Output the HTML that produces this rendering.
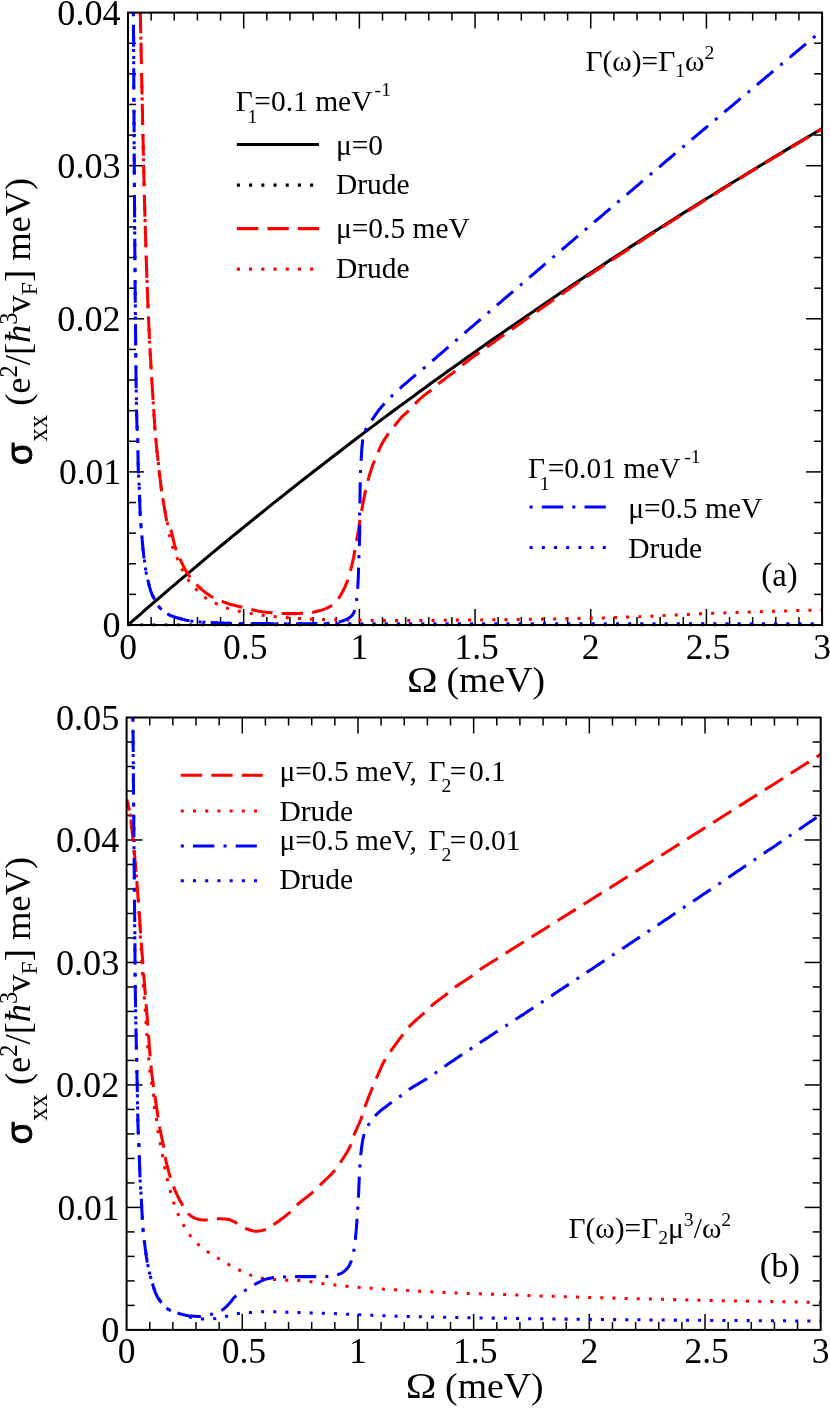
<!DOCTYPE html>
<html><head><meta charset="utf-8"><title>fig</title>
<style>
html,body{margin:0;padding:0;background:#fff;}
body{width:830px;height:1408px;overflow:hidden;font-family:"Liberation Serif",serif;}
svg{display:block;will-change:transform;}
svg text{font-family:"Liberation Serif",serif;fill:#000;}
</style></head><body>
<svg width="830" height="1408" viewBox="0 0 830 1408">
<defs>
<clipPath id="ca"><rect x="128.00" y="12.60" width="694.10" height="613.90"/></clipPath>
<clipPath id="cb"><rect x="126.60" y="717.50" width="694.10" height="613.90"/></clipPath>
</defs>
<rect x="0" y="0" width="830" height="1408" fill="#fff"/>
<line x1="151.14" y1="625.00" x2="151.14" y2="617.00" stroke="#000" stroke-width="1.50"/>
<line x1="151.14" y1="12.60" x2="151.14" y2="20.60" stroke="#000" stroke-width="1.50"/>
<line x1="174.27" y1="625.00" x2="174.27" y2="617.00" stroke="#000" stroke-width="1.50"/>
<line x1="174.27" y1="12.60" x2="174.27" y2="20.60" stroke="#000" stroke-width="1.50"/>
<line x1="197.41" y1="625.00" x2="197.41" y2="617.00" stroke="#000" stroke-width="1.50"/>
<line x1="197.41" y1="12.60" x2="197.41" y2="20.60" stroke="#000" stroke-width="1.50"/>
<line x1="220.55" y1="625.00" x2="220.55" y2="617.00" stroke="#000" stroke-width="1.50"/>
<line x1="220.55" y1="12.60" x2="220.55" y2="20.60" stroke="#000" stroke-width="1.50"/>
<line x1="243.68" y1="625.00" x2="243.68" y2="609.00" stroke="#000" stroke-width="1.50"/>
<line x1="243.68" y1="12.60" x2="243.68" y2="28.60" stroke="#000" stroke-width="1.50"/>
<line x1="266.82" y1="625.00" x2="266.82" y2="617.00" stroke="#000" stroke-width="1.50"/>
<line x1="266.82" y1="12.60" x2="266.82" y2="20.60" stroke="#000" stroke-width="1.50"/>
<line x1="289.96" y1="625.00" x2="289.96" y2="617.00" stroke="#000" stroke-width="1.50"/>
<line x1="289.96" y1="12.60" x2="289.96" y2="20.60" stroke="#000" stroke-width="1.50"/>
<line x1="313.09" y1="625.00" x2="313.09" y2="617.00" stroke="#000" stroke-width="1.50"/>
<line x1="313.09" y1="12.60" x2="313.09" y2="20.60" stroke="#000" stroke-width="1.50"/>
<line x1="336.23" y1="625.00" x2="336.23" y2="617.00" stroke="#000" stroke-width="1.50"/>
<line x1="336.23" y1="12.60" x2="336.23" y2="20.60" stroke="#000" stroke-width="1.50"/>
<line x1="359.37" y1="625.00" x2="359.37" y2="609.00" stroke="#000" stroke-width="1.50"/>
<line x1="359.37" y1="12.60" x2="359.37" y2="28.60" stroke="#000" stroke-width="1.50"/>
<line x1="382.50" y1="625.00" x2="382.50" y2="617.00" stroke="#000" stroke-width="1.50"/>
<line x1="382.50" y1="12.60" x2="382.50" y2="20.60" stroke="#000" stroke-width="1.50"/>
<line x1="405.64" y1="625.00" x2="405.64" y2="617.00" stroke="#000" stroke-width="1.50"/>
<line x1="405.64" y1="12.60" x2="405.64" y2="20.60" stroke="#000" stroke-width="1.50"/>
<line x1="428.78" y1="625.00" x2="428.78" y2="617.00" stroke="#000" stroke-width="1.50"/>
<line x1="428.78" y1="12.60" x2="428.78" y2="20.60" stroke="#000" stroke-width="1.50"/>
<line x1="451.91" y1="625.00" x2="451.91" y2="617.00" stroke="#000" stroke-width="1.50"/>
<line x1="451.91" y1="12.60" x2="451.91" y2="20.60" stroke="#000" stroke-width="1.50"/>
<line x1="475.05" y1="625.00" x2="475.05" y2="609.00" stroke="#000" stroke-width="1.50"/>
<line x1="475.05" y1="12.60" x2="475.05" y2="28.60" stroke="#000" stroke-width="1.50"/>
<line x1="498.19" y1="625.00" x2="498.19" y2="617.00" stroke="#000" stroke-width="1.50"/>
<line x1="498.19" y1="12.60" x2="498.19" y2="20.60" stroke="#000" stroke-width="1.50"/>
<line x1="521.32" y1="625.00" x2="521.32" y2="617.00" stroke="#000" stroke-width="1.50"/>
<line x1="521.32" y1="12.60" x2="521.32" y2="20.60" stroke="#000" stroke-width="1.50"/>
<line x1="544.46" y1="625.00" x2="544.46" y2="617.00" stroke="#000" stroke-width="1.50"/>
<line x1="544.46" y1="12.60" x2="544.46" y2="20.60" stroke="#000" stroke-width="1.50"/>
<line x1="567.60" y1="625.00" x2="567.60" y2="617.00" stroke="#000" stroke-width="1.50"/>
<line x1="567.60" y1="12.60" x2="567.60" y2="20.60" stroke="#000" stroke-width="1.50"/>
<line x1="590.73" y1="625.00" x2="590.73" y2="609.00" stroke="#000" stroke-width="1.50"/>
<line x1="590.73" y1="12.60" x2="590.73" y2="28.60" stroke="#000" stroke-width="1.50"/>
<line x1="613.87" y1="625.00" x2="613.87" y2="617.00" stroke="#000" stroke-width="1.50"/>
<line x1="613.87" y1="12.60" x2="613.87" y2="20.60" stroke="#000" stroke-width="1.50"/>
<line x1="637.01" y1="625.00" x2="637.01" y2="617.00" stroke="#000" stroke-width="1.50"/>
<line x1="637.01" y1="12.60" x2="637.01" y2="20.60" stroke="#000" stroke-width="1.50"/>
<line x1="660.14" y1="625.00" x2="660.14" y2="617.00" stroke="#000" stroke-width="1.50"/>
<line x1="660.14" y1="12.60" x2="660.14" y2="20.60" stroke="#000" stroke-width="1.50"/>
<line x1="683.28" y1="625.00" x2="683.28" y2="617.00" stroke="#000" stroke-width="1.50"/>
<line x1="683.28" y1="12.60" x2="683.28" y2="20.60" stroke="#000" stroke-width="1.50"/>
<line x1="706.42" y1="625.00" x2="706.42" y2="609.00" stroke="#000" stroke-width="1.50"/>
<line x1="706.42" y1="12.60" x2="706.42" y2="28.60" stroke="#000" stroke-width="1.50"/>
<line x1="729.55" y1="625.00" x2="729.55" y2="617.00" stroke="#000" stroke-width="1.50"/>
<line x1="729.55" y1="12.60" x2="729.55" y2="20.60" stroke="#000" stroke-width="1.50"/>
<line x1="752.69" y1="625.00" x2="752.69" y2="617.00" stroke="#000" stroke-width="1.50"/>
<line x1="752.69" y1="12.60" x2="752.69" y2="20.60" stroke="#000" stroke-width="1.50"/>
<line x1="775.83" y1="625.00" x2="775.83" y2="617.00" stroke="#000" stroke-width="1.50"/>
<line x1="775.83" y1="12.60" x2="775.83" y2="20.60" stroke="#000" stroke-width="1.50"/>
<line x1="798.96" y1="625.00" x2="798.96" y2="617.00" stroke="#000" stroke-width="1.50"/>
<line x1="798.96" y1="12.60" x2="798.96" y2="20.60" stroke="#000" stroke-width="1.50"/>
<line x1="128.00" y1="594.38" x2="136.00" y2="594.38" stroke="#000" stroke-width="1.50"/>
<line x1="822.10" y1="594.38" x2="814.10" y2="594.38" stroke="#000" stroke-width="1.50"/>
<line x1="128.00" y1="563.76" x2="136.00" y2="563.76" stroke="#000" stroke-width="1.50"/>
<line x1="822.10" y1="563.76" x2="814.10" y2="563.76" stroke="#000" stroke-width="1.50"/>
<line x1="128.00" y1="533.14" x2="136.00" y2="533.14" stroke="#000" stroke-width="1.50"/>
<line x1="822.10" y1="533.14" x2="814.10" y2="533.14" stroke="#000" stroke-width="1.50"/>
<line x1="128.00" y1="502.52" x2="136.00" y2="502.52" stroke="#000" stroke-width="1.50"/>
<line x1="822.10" y1="502.52" x2="814.10" y2="502.52" stroke="#000" stroke-width="1.50"/>
<line x1="128.00" y1="471.90" x2="144.00" y2="471.90" stroke="#000" stroke-width="1.50"/>
<line x1="822.10" y1="471.90" x2="806.10" y2="471.90" stroke="#000" stroke-width="1.50"/>
<line x1="128.00" y1="441.28" x2="136.00" y2="441.28" stroke="#000" stroke-width="1.50"/>
<line x1="822.10" y1="441.28" x2="814.10" y2="441.28" stroke="#000" stroke-width="1.50"/>
<line x1="128.00" y1="410.66" x2="136.00" y2="410.66" stroke="#000" stroke-width="1.50"/>
<line x1="822.10" y1="410.66" x2="814.10" y2="410.66" stroke="#000" stroke-width="1.50"/>
<line x1="128.00" y1="380.04" x2="136.00" y2="380.04" stroke="#000" stroke-width="1.50"/>
<line x1="822.10" y1="380.04" x2="814.10" y2="380.04" stroke="#000" stroke-width="1.50"/>
<line x1="128.00" y1="349.42" x2="136.00" y2="349.42" stroke="#000" stroke-width="1.50"/>
<line x1="822.10" y1="349.42" x2="814.10" y2="349.42" stroke="#000" stroke-width="1.50"/>
<line x1="128.00" y1="318.80" x2="144.00" y2="318.80" stroke="#000" stroke-width="1.50"/>
<line x1="822.10" y1="318.80" x2="806.10" y2="318.80" stroke="#000" stroke-width="1.50"/>
<line x1="128.00" y1="288.18" x2="136.00" y2="288.18" stroke="#000" stroke-width="1.50"/>
<line x1="822.10" y1="288.18" x2="814.10" y2="288.18" stroke="#000" stroke-width="1.50"/>
<line x1="128.00" y1="257.56" x2="136.00" y2="257.56" stroke="#000" stroke-width="1.50"/>
<line x1="822.10" y1="257.56" x2="814.10" y2="257.56" stroke="#000" stroke-width="1.50"/>
<line x1="128.00" y1="226.94" x2="136.00" y2="226.94" stroke="#000" stroke-width="1.50"/>
<line x1="822.10" y1="226.94" x2="814.10" y2="226.94" stroke="#000" stroke-width="1.50"/>
<line x1="128.00" y1="196.32" x2="136.00" y2="196.32" stroke="#000" stroke-width="1.50"/>
<line x1="822.10" y1="196.32" x2="814.10" y2="196.32" stroke="#000" stroke-width="1.50"/>
<line x1="128.00" y1="165.70" x2="144.00" y2="165.70" stroke="#000" stroke-width="1.50"/>
<line x1="822.10" y1="165.70" x2="806.10" y2="165.70" stroke="#000" stroke-width="1.50"/>
<line x1="128.00" y1="135.08" x2="136.00" y2="135.08" stroke="#000" stroke-width="1.50"/>
<line x1="822.10" y1="135.08" x2="814.10" y2="135.08" stroke="#000" stroke-width="1.50"/>
<line x1="128.00" y1="104.46" x2="136.00" y2="104.46" stroke="#000" stroke-width="1.50"/>
<line x1="822.10" y1="104.46" x2="814.10" y2="104.46" stroke="#000" stroke-width="1.50"/>
<line x1="128.00" y1="73.84" x2="136.00" y2="73.84" stroke="#000" stroke-width="1.50"/>
<line x1="822.10" y1="73.84" x2="814.10" y2="73.84" stroke="#000" stroke-width="1.50"/>
<line x1="128.00" y1="43.22" x2="136.00" y2="43.22" stroke="#000" stroke-width="1.50"/>
<line x1="822.10" y1="43.22" x2="814.10" y2="43.22" stroke="#000" stroke-width="1.50"/>
<path d="M128.0,625.0 L131.5,625.0 L135.0,625.0 L138.5,625.0 L142.0,625.0 L145.4,625.0 L148.9,625.0 L152.4,625.0 L155.9,625.0 L159.4,625.0 L162.9,625.0 L166.4,625.0 L169.9,625.0 L173.3,625.0 L176.8,625.0 L180.3,625.0 L183.8,625.0 L187.3,625.0 L190.8,625.0 L194.3,625.0 L197.8,625.0 L201.2,625.0 L204.7,625.0 L208.2,625.0 L211.7,625.0 L215.2,625.0 L218.7,625.0 L222.2,625.0 L225.7,625.0 L229.2,625.0 L232.6,625.0 L236.1,625.0 L239.6,625.0 L243.1,625.0 L246.6,625.0 L250.1,625.0 L253.6,625.0 L257.1,625.0 L260.5,625.0 L264.0,625.0 L267.5,625.0 L271.0,625.0 L274.5,625.0 L278.0,625.0 L281.5,625.0 L285.0,625.0 L288.4,625.0 L291.9,625.0 L295.4,625.0 L298.9,625.0 L302.4,625.0 L305.9,625.0 L309.4,625.0 L312.9,625.0 L316.3,625.0 L319.8,625.0 L323.3,625.0 L326.8,625.0 L330.3,625.0 L333.8,625.0 L337.3,625.0 L340.8,625.0 L344.3,625.0 L347.7,625.0 L351.2,625.0 L354.7,625.0 L358.2,625.0 L361.7,625.0 L365.2,625.0 L368.7,625.0 L372.2,625.0 L375.6,625.0 L379.1,625.0 L382.6,625.0 L386.1,625.0 L389.6,625.0 L393.1,625.0 L396.6,625.0 L400.1,625.0 L403.5,625.0 L407.0,625.0 L410.5,625.0 L414.0,625.0 L417.5,625.0 L421.0,625.0 L424.5,625.0 L428.0,625.0 L431.5,625.0 L434.9,625.0 L438.4,625.0 L441.9,625.0 L445.4,625.0 L448.9,625.0 L452.4,625.0 L455.9,625.0 L459.4,625.0 L462.8,625.0 L466.3,625.0 L469.8,625.0 L473.3,625.0 L476.8,625.0 L480.3,625.0 L483.8,625.0 L487.3,625.0 L490.7,625.0 L494.2,625.0 L497.7,625.0 L501.2,625.0 L504.7,625.0 L508.2,625.0 L511.7,625.0 L515.2,625.0 L518.6,625.0 L522.1,625.0 L525.6,625.0 L529.1,625.0 L532.6,625.0 L536.1,625.0 L539.6,625.0 L543.1,625.0 L546.6,625.0 L550.0,625.0 L553.5,625.0 L557.0,625.0 L560.5,625.0 L564.0,625.0 L567.5,625.0 L571.0,625.0 L574.5,625.0 L577.9,625.0 L581.4,625.0 L584.9,625.0 L588.4,625.0 L591.9,625.0 L595.4,625.0 L598.9,625.0 L602.4,625.0 L605.8,625.0 L609.3,625.0 L612.8,625.0 L616.3,625.0 L619.8,625.0 L623.3,625.0 L626.8,625.0 L630.3,625.0 L633.8,625.0 L637.2,625.0 L640.7,625.0 L644.2,625.0 L647.7,625.0 L651.2,625.0 L654.7,625.0 L658.2,625.0 L661.7,625.0 L665.1,625.0 L668.6,625.0 L672.1,625.0 L675.6,625.0 L679.1,625.0 L682.6,625.0 L686.1,625.0 L689.6,625.0 L693.0,625.0 L696.5,625.0 L700.0,625.0 L703.5,625.0 L707.0,625.0 L710.5,625.0 L714.0,625.0 L717.5,625.0 L720.9,625.0 L724.4,625.0 L727.9,625.0 L731.4,625.0 L734.9,625.0 L738.4,625.0 L741.9,625.0 L745.4,625.0 L748.9,625.0 L752.3,625.0 L755.8,625.0 L759.3,625.0 L762.8,625.0 L766.3,625.0 L769.8,625.0 L773.3,625.0 L776.8,625.0 L780.2,625.0 L783.7,625.0 L787.2,625.0 L790.7,625.0 L794.2,625.0 L797.7,625.0 L801.2,625.0 L804.7,625.0 L808.1,625.0 L811.6,625.0 L815.1,625.0 L818.6,625.0 L822.1,625.0" fill="none" stroke="#000000" stroke-width="3.05" stroke-dasharray="3.050 9.150" stroke-dashoffset="0.00" clip-path="url(#ca)"/>
<path d="M132.9,-60.0 L132.9,-56.6 L132.9,-53.3 L133.0,-49.9 L133.0,-46.6 L133.0,-43.2 L133.0,-39.9 L133.1,-36.5 L133.1,-33.2 L133.1,-29.8 L133.1,-26.5 L133.2,-23.1 L133.2,-19.8 L133.2,-16.4 L133.2,-13.1 L133.3,-9.7 L133.3,-6.4 L133.3,-3.0 L133.3,0.3 L133.3,3.7 L133.4,7.0 L133.4,10.4 L133.4,13.7 L133.4,17.1 L133.4,20.4 L133.5,23.8 L133.5,27.1 L133.5,30.5 L133.5,33.8 L133.6,37.2 L133.6,40.5 L133.6,43.9 L133.6,47.2 L133.6,50.6 L133.7,53.9 L133.7,57.3 L133.7,60.6 L133.7,64.0 L133.7,67.3 L133.7,70.7 L133.8,74.0 L133.8,77.4 L133.8,80.7 L133.8,84.1 L133.8,87.4 L133.9,90.8 L133.9,94.1 L133.9,97.5 L133.9,100.8 L133.9,104.2 L133.9,107.5 L134.0,110.9 L134.0,114.2 L134.0,117.6 L134.0,120.9 L134.0,124.3 L134.1,127.6 L134.1,131.0 L134.1,134.3 L134.1,137.7 L134.1,141.0 L134.2,144.4 L134.2,147.7 L134.2,151.1 L134.2,154.4 L134.2,157.8 L134.3,161.1 L134.3,164.5 L134.3,167.8 L134.3,171.2 L134.3,174.5 L134.4,177.9 L134.4,181.2 L134.4,184.6 L134.4,187.9 L134.4,191.3 L134.5,194.6 L134.5,198.0 L134.5,201.3 L134.5,204.7 L134.6,208.0 L134.6,211.4 L134.6,214.7 L134.6,218.1 L134.6,221.4 L134.7,224.8 L134.7,228.1 L134.7,231.5 L134.7,234.8 L134.8,238.2 L134.8,241.5 L134.8,244.9 L134.8,248.2 L134.8,251.6 L134.9,254.9 L134.9,258.3 L134.9,261.6 L134.9,265.0 L135.0,268.3 L135.0,271.7 L135.0,275.0 L135.1,278.4 L135.1,281.7 L135.1,285.1 L135.1,288.4 L135.2,291.8 L135.2,295.1 L135.2,298.5 L135.2,301.8 L135.3,305.2 L135.3,308.5 L135.3,311.9 L135.4,315.2 L135.4,318.6 L135.4,321.9 L135.5,325.3 L135.5,328.6 L135.5,332.0 L135.6,335.3 L135.6,338.7 L135.6,342.0 L135.7,345.4 L135.7,348.7 L135.7,352.1 L135.8,355.4 L135.8,358.8 L135.8,362.1 L135.9,365.5 L135.9,368.8 L136.0,372.2 L136.0,375.5 L136.0,378.9 L136.1,382.2 L136.1,385.6 L136.2,388.9 L136.2,392.3 L136.3,395.6 L136.4,399.0 L136.4,402.3 L136.5,405.7 L136.6,409.0 L136.6,412.4 L136.7,415.7 L136.8,419.1 L136.9,422.4 L137.0,425.8 L137.2,429.1 L137.4,432.4 L137.5,435.8 L137.7,439.1 L137.8,442.5 L137.8,445.8 L137.9,449.2 L138.0,452.5 L138.0,455.9 L138.1,459.2 L138.1,462.6 L138.2,465.9 L138.3,469.3 L138.4,472.6 L138.6,476.0 L138.8,479.3 L139.0,482.7 L139.2,486.0 L139.3,489.4 L139.5,492.7 L139.6,496.1 L139.7,499.4 L139.8,502.8 L139.9,506.1 L140.0,509.4 L140.1,512.8 L140.3,516.1 L140.5,519.5 L140.7,522.8 L141.0,526.2 L141.3,529.5 L141.6,532.8 L141.9,536.2 L142.2,539.5 L142.5,542.9 L142.7,546.2 L143.0,549.5 L143.4,552.9 L143.8,556.2 L144.3,559.5 L144.7,562.8 L145.2,566.1 L145.7,569.5 L146.2,572.8 L146.9,576.0 L147.7,579.3 L148.5,582.6 L149.3,585.8 L150.1,589.1 L151.1,592.3 L152.4,595.3 L154.0,598.3 L155.6,601.2 L157.3,604.2 L159.2,607.0 L161.4,609.4 L164.0,611.6 L166.8,613.5 L169.7,615.1 L172.8,616.4 L176.0,617.5 L179.2,618.4 L182.5,619.3 L185.7,620.0 L189.0,620.7 L192.3,621.2 L195.7,621.6 L199.0,621.9 L202.3,622.2 L205.7,622.3 L209.0,622.5 L212.4,622.6 L215.7,622.8 L219.1,622.9 L222.4,623.1 L225.8,623.2 L229.1,623.3 L232.5,623.4 L235.8,623.4 L239.2,623.5 L242.5,623.5 L245.9,623.5 L249.2,623.5 L252.6,623.6 L255.9,623.6 L259.3,623.6 L262.6,623.6 L266.0,623.6 L269.3,623.6 L272.7,623.7 L276.0,623.7 L279.4,623.7 L282.7,623.7 L286.1,623.7 L289.4,623.7 L292.8,623.7 L296.1,623.7 L299.5,623.7 L302.8,623.7 L306.2,623.7 L309.5,623.7 L312.9,623.7 L316.2,623.7 L319.6,623.7 L322.9,623.7 L326.3,623.7 L329.6,623.7 L333.0,623.7 L336.3,623.7 L339.7,623.7 L343.0,623.7 L346.4,623.7 L349.7,623.7 L353.1,623.7 L356.4,623.7 L359.8,623.7 L363.1,623.7 L366.5,623.7 L369.8,623.7 L373.2,623.7 L376.5,623.7 L379.9,623.7 L383.2,623.7 L386.6,623.7 L389.9,623.7 L393.3,623.7 L396.6,623.7 L400.0,623.7 L403.3,623.7 L406.7,623.7 L410.0,623.7 L413.4,623.7 L416.7,623.7 L420.1,623.7 L423.4,623.7 L426.8,623.7 L430.1,623.7 L433.5,623.7 L436.8,623.7 L440.2,623.7 L443.5,623.7 L446.9,623.7 L450.2,623.7 L453.6,623.7 L456.9,623.7 L460.3,623.7 L463.6,623.7 L467.0,623.7 L470.3,623.7 L473.7,623.7 L477.0,623.7 L480.4,623.7 L483.7,623.7 L487.1,623.7 L490.4,623.7 L493.8,623.7 L497.1,623.7 L500.5,623.7 L503.8,623.7 L507.2,623.7 L510.5,623.7 L513.9,623.7 L517.2,623.7 L520.6,623.7 L523.9,623.7 L527.3,623.7 L530.6,623.7 L534.0,623.7 L537.3,623.7 L540.7,623.7 L544.0,623.7 L547.4,623.7 L550.7,623.7 L554.1,623.7 L557.4,623.7 L560.8,623.7 L564.1,623.7 L567.5,623.7 L570.8,623.7 L574.2,623.7 L577.5,623.7 L580.9,623.7 L584.2,623.7 L587.6,623.7 L590.9,623.7 L594.3,623.7 L597.6,623.7 L601.0,623.7 L604.3,623.7 L607.7,623.7 L611.0,623.7 L614.4,623.7 L617.7,623.7 L621.1,623.7 L624.4,623.7 L627.8,623.7 L631.1,623.7 L634.5,623.7 L637.8,623.7 L641.2,623.7 L644.5,623.7 L647.9,623.7 L651.2,623.7 L654.6,623.7 L657.9,623.7 L661.3,623.7 L664.6,623.7 L668.0,623.7 L671.3,623.7 L674.7,623.7 L678.0,623.7 L681.4,623.7 L684.7,623.7 L688.1,623.7 L691.4,623.7 L694.8,623.7 L698.1,623.7 L701.5,623.7 L704.8,623.7 L708.2,623.7 L711.5,623.7 L714.9,623.7 L718.2,623.7 L721.6,623.7 L724.9,623.7 L728.3,623.7 L731.6,623.7 L735.0,623.7 L738.3,623.7 L741.7,623.7 L745.0,623.7 L748.4,623.7 L751.7,623.7 L755.1,623.7 L758.4,623.7 L761.8,623.7 L765.1,623.7 L768.5,623.7 L771.8,623.7 L775.2,623.7 L778.5,623.7 L781.9,623.7 L785.2,623.7 L788.6,623.7 L791.9,623.7 L795.3,623.7 L798.6,623.7 L802.0,623.7 L805.3,623.7 L808.7,623.7 L812.0,623.7 L815.4,623.7 L818.7,623.7 L822.1,623.7" fill="none" stroke="#0000ff" stroke-width="3.05" stroke-dasharray="3.041 9.123" stroke-dashoffset="0.49" clip-path="url(#ca)"/>
<path d="M139.2,-40.0 L139.3,-36.8 L139.3,-33.6 L139.4,-30.5 L139.5,-27.3 L139.5,-24.1 L139.6,-20.9 L139.7,-17.7 L139.7,-14.5 L139.8,-11.4 L139.9,-8.2 L139.9,-5.0 L140.0,-1.8 L140.1,1.4 L140.1,4.6 L140.2,7.7 L140.3,10.9 L140.3,14.1 L140.4,17.3 L140.5,20.5 L140.5,23.7 L140.6,26.8 L140.7,30.0 L140.7,33.2 L140.8,36.4 L140.9,39.6 L141.0,42.8 L141.0,45.9 L141.1,49.1 L141.2,52.3 L141.2,55.5 L141.3,58.7 L141.4,61.9 L141.4,65.0 L141.5,68.2 L141.6,71.4 L141.6,74.6 L141.7,77.8 L141.8,81.0 L141.8,84.1 L141.9,87.3 L142.0,90.5 L142.0,93.7 L142.1,96.9 L142.2,100.1 L142.2,103.2 L142.3,106.4 L142.4,109.6 L142.4,112.8 L142.5,116.0 L142.6,119.1 L142.6,122.3 L142.7,125.5 L142.8,128.7 L142.8,131.9 L142.9,135.1 L143.0,138.2 L143.1,141.4 L143.1,144.6 L143.2,147.8 L143.3,151.0 L143.4,154.2 L143.4,157.3 L143.5,160.5 L143.6,163.7 L143.7,166.9 L143.7,170.1 L143.8,173.3 L143.9,176.4 L144.0,179.6 L144.0,182.8 L144.1,186.0 L144.2,189.2 L144.3,192.4 L144.4,195.5 L144.5,198.7 L144.6,201.9 L144.6,205.1 L144.7,208.3 L144.8,211.4 L144.9,214.6 L145.0,217.8 L145.1,221.0 L145.2,224.2 L145.3,227.4 L145.4,230.5 L145.5,233.7 L145.6,236.9 L145.7,240.1 L145.8,243.3 L145.9,246.5 L146.0,249.6 L146.1,252.8 L146.2,256.0 L146.3,259.2 L146.4,262.4 L146.5,265.5 L146.6,268.7 L146.7,271.9 L146.8,275.1 L146.9,278.3 L147.1,281.5 L147.2,284.6 L147.3,287.8 L147.4,291.0 L147.5,294.2 L147.7,297.4 L147.8,300.5 L147.9,303.7 L148.0,306.9 L148.2,310.1 L148.3,313.3 L148.4,316.4 L148.6,319.6 L148.7,322.8 L148.9,326.0 L149.0,329.2 L149.2,332.3 L149.3,335.5 L149.5,338.7 L149.6,341.9 L149.8,345.1 L150.0,348.2 L150.2,351.4 L150.3,354.6 L150.5,357.8 L150.7,361.0 L150.9,364.1 L151.1,367.3 L151.2,370.5 L151.4,373.7 L151.6,376.9 L151.8,380.0 L152.0,383.2 L152.2,386.4 L152.4,389.6 L152.6,392.7 L152.8,395.9 L153.0,399.1 L153.2,402.3 L153.4,405.4 L153.6,408.6 L153.8,411.8 L154.0,415.0 L154.3,418.2 L154.5,421.3 L154.7,424.5 L154.9,427.7 L155.2,430.9 L155.4,434.0 L155.7,437.2 L155.9,440.4 L156.2,443.5 L156.5,446.7 L156.9,449.9 L157.2,453.0 L157.6,456.2 L157.9,459.4 L158.3,462.5 L158.6,465.7 L159.0,468.9 L159.3,472.0 L159.7,475.2 L160.0,478.4 L160.4,481.5 L160.8,484.7 L161.2,487.8 L161.7,491.0 L162.1,494.1 L162.6,497.3 L163.1,500.4 L163.6,503.6 L164.2,506.7 L164.8,509.8 L165.3,513.0 L165.9,516.1 L166.6,519.2 L167.2,522.3 L167.8,525.5 L168.4,528.6 L168.9,531.7 L169.5,534.9 L170.2,538.0 L170.9,541.1 L171.8,544.2 L172.7,547.2 L173.7,550.2 L175.0,553.1 L176.2,556.1 L177.5,559.0 L178.8,561.9 L179.8,564.3" fill="none" stroke="#ff0000" stroke-width="3.05" stroke-dasharray="3.042 9.127" stroke-dashoffset="8.58" clip-path="url(#ca)"/>
<path d="M179.8,564.3 L180.0,564.8 L181.3,567.8 L182.7,570.6 L184.2,573.4 L185.8,576.2 L187.5,578.9 L189.3,581.5 L191.3,584.0 L193.4,586.4 L195.6,588.7 L197.8,591.0 L200.1,593.3 L202.4,595.5 L204.9,597.4 L207.5,599.2 L210.3,600.7 L213.1,602.2 L216.0,603.5 L218.9,604.9 L221.9,606.2 L224.8,607.4 L227.8,608.4 L230.8,609.3 L233.3,609.9" fill="none" stroke="#ff0000" stroke-width="3.05" stroke-dasharray="3.055 9.164" stroke-dashoffset="7.66" clip-path="url(#ca)"/>
<path d="M233.3,609.9 L233.9,610.1 L237.0,610.8 L240.2,611.5 L243.3,612.1 L246.4,612.8 L249.5,613.3 L252.7,613.8 L255.8,614.3 L259.0,614.8 L262.1,615.2 L265.3,615.5 L268.5,615.8 L271.6,616.1 L274.8,616.5 L278.0,616.8 L281.1,617.1 L284.3,617.4 L287.5,617.7 L290.6,618.0 L293.8,618.2 L297.0,618.4 L300.2,618.6 L303.4,618.8 L306.5,619.0 L309.7,619.1 L312.9,619.2 L316.1,619.3 L319.3,619.4 L322.4,619.5 L325.6,619.6 L328.8,619.6 L329.7,619.7" fill="none" stroke="#ff0000" stroke-width="3.05" stroke-dasharray="3.032 9.095" stroke-dashoffset="7.53" clip-path="url(#ca)"/>
<path d="M329.7,619.7 L332.0,619.7 L335.2,619.8 L338.4,619.8 L341.5,619.8 L344.7,619.9 L347.9,619.9 L351.1,620.0 L354.3,620.1 L357.5,620.2 L360.6,620.3 L363.8,620.4 L367.0,620.4 L370.2,620.4 L373.4,620.5 L376.6,620.5 L379.7,620.5 L382.9,620.5 L386.1,620.6 L389.3,620.6 L392.5,620.6 L395.7,620.6 L398.8,620.6 L402.0,620.6 L405.2,620.6 L408.4,620.6 L411.6,620.6 L414.8,620.5 L417.9,620.5 L421.1,620.5 L424.3,620.5 L427.5,620.4 L430.7,620.4 L433.9,620.4 L437.0,620.3 L440.2,620.3 L443.4,620.3 L446.6,620.2 L449.8,620.2 L453.0,620.2 L456.1,620.1 L459.3,620.1 L462.5,620.1 L465.7,620.0 L468.9,620.0 L472.1,620.0 L475.2,619.9 L478.4,619.9 L481.6,619.9 L484.8,619.8 L488.0,619.8 L491.2,619.8 L494.3,619.7 L497.5,619.7 L500.7,619.7 L503.9,619.6 L507.1,619.6 L510.3,619.5 L513.4,619.5 L516.6,619.4 L519.8,619.4 L523.0,619.4 L526.2,619.3 L529.4,619.3 L532.5,619.2 L535.7,619.2 L538.9,619.1 L542.1,619.1 L545.3,619.0 L548.5,619.0 L551.6,618.9 L554.8,618.9 L558.0,618.8 L561.2,618.8 L564.4,618.7 L567.6,618.7 L570.7,618.6 L573.9,618.6 L577.1,618.5 L580.3,618.4 L583.5,618.4 L586.7,618.3 L589.8,618.2 L593.0,618.1 L596.2,618.1 L599.4,618.0 L602.6,617.9 L605.8,617.8 L608.9,617.7 L612.1,617.6 L615.3,617.5 L618.5,617.4 L621.7,617.3 L624.8,617.2 L628.0,617.0 L631.2,616.9 L634.4,616.8 L637.6,616.7 L640.8,616.6 L643.9,616.4 L647.1,616.3 L650.3,616.2 L653.5,616.1 L656.7,615.9 L659.8,615.8 L663.0,615.6 L666.2,615.5 L669.4,615.3 L672.6,615.2 L675.7,615.0 L678.9,614.9 L682.1,614.7 L685.3,614.5 L688.5,614.4 L691.6,614.2 L694.8,614.1 L698.0,613.9 L701.2,613.8 L704.4,613.7 L707.5,613.5 L710.7,613.4 L713.9,613.3 L717.1,613.2 L720.3,613.0 L723.4,612.9 L726.6,612.8 L729.8,612.7 L733.0,612.6 L736.2,612.5 L739.4,612.3 L742.5,612.2 L745.7,612.1 L748.9,612.0 L752.1,611.9 L755.3,611.8 L758.4,611.7 L761.6,611.6 L764.8,611.5 L768.0,611.4 L771.2,611.3 L774.4,611.2 L777.5,611.1 L780.7,611.0 L783.9,611.0 L787.1,610.9 L790.3,610.8 L793.5,610.7 L796.6,610.6 L799.8,610.5 L803.0,610.4 L806.2,610.4 L809.4,610.3 L812.6,610.2 L815.7,610.1 L818.9,610.1 L822.1,610.0" fill="none" stroke="#ff0000" stroke-width="3.05" stroke-dasharray="3.041 9.123" stroke-dashoffset="7.62" clip-path="url(#ca)"/>
<path d="M128.0,625.0 L133.8,619.9 L139.7,614.8 L145.5,609.7 L151.3,604.7 L157.2,599.6 L163.0,594.6 L168.8,589.6 L174.7,584.7 L180.5,579.7 L186.3,574.8 L192.2,569.9 L198.0,565.0 L203.8,560.1 L209.7,555.2 L215.5,550.4 L221.3,545.5 L227.2,540.7 L233.0,535.9 L238.8,531.2 L244.7,526.4 L250.5,521.7 L256.3,517.0 L262.2,512.3 L268.0,507.6 L273.8,502.9 L279.7,498.3 L285.5,493.6 L291.3,489.0 L297.2,484.4 L303.0,479.8 L308.8,475.3 L314.6,470.7 L320.5,466.2 L326.3,461.7 L332.1,457.2 L338.0,452.7 L343.8,448.2 L349.6,443.8 L355.5,439.3 L361.3,434.9 L367.1,430.5 L373.0,426.1 L378.8,421.8 L384.6,417.4 L390.5,413.1 L396.3,408.8 L402.1,404.4 L408.0,400.2 L413.8,395.9 L419.6,391.6 L425.5,387.4 L431.3,383.1 L437.1,378.9 L443.0,374.7 L448.8,370.5 L454.6,366.4 L460.5,362.2 L466.3,358.0 L472.1,353.9 L478.0,349.8 L483.8,345.7 L489.6,341.6 L495.5,337.5 L501.3,333.5 L507.1,329.4 L513.0,325.4 L518.8,321.4 L524.6,317.4 L530.5,313.4 L536.3,309.4 L542.1,305.4 L548.0,301.5 L553.8,297.5 L559.6,293.6 L565.5,289.7 L571.3,285.8 L577.1,281.9 L583.0,278.0 L588.8,274.1 L594.6,270.3 L600.5,266.4 L606.3,262.6 L612.1,258.8 L618.0,255.0 L623.8,251.2 L629.6,247.4 L635.5,243.6 L641.3,239.9 L647.1,236.1 L652.9,232.4 L658.8,228.7 L664.6,225.0 L670.4,221.3 L676.3,217.6 L682.1,213.9 L687.9,210.2 L693.8,206.6 L699.6,202.9 L705.4,199.3 L711.3,195.7 L717.1,192.0 L722.9,188.4 L728.8,184.8 L734.6,181.2 L740.4,177.7 L746.3,174.1 L752.1,170.5 L757.9,167.0 L763.8,163.5 L769.6,159.9 L775.4,156.4 L781.3,152.9 L787.1,149.4 L792.9,145.9 L798.8,142.4 L804.6,138.9 L810.4,135.5 L816.3,132.0 L822.1,128.6" fill="none" stroke="#000000" stroke-width="3.05" clip-path="url(#ca)"/>
<path d="M139.2,-40.0 L139.2,-37.9 L139.3,-35.7 L139.3,-33.6 L139.4,-31.5 L139.4,-29.3 L139.5,-27.2 L139.5,-25.1 L139.6,-22.9 L139.6,-20.8 L139.6,-18.7 L139.7,-16.5 L139.7,-14.4 L139.8,-12.3 L139.8,-10.1 L139.9,-8.0 L139.9,-5.9 L140.0,-3.7 L140.0,-1.6 L140.0,0.5 L140.1,2.7 L140.1,4.8 L140.2,6.9 L140.2,9.1 L140.3,11.2 L140.3,13.3 L140.4,15.5 L140.4,17.6 L140.5,19.7 L140.5,21.9 L140.5,24.0 L140.6,26.1 L140.6,28.3 L140.7,30.4 L140.7,32.5 L140.8,34.7 L140.8,36.8 L140.9,38.9 L140.9,41.1 L141.0,43.2 L141.0,45.3 L141.1,47.5 L141.1,49.6 L141.1,51.7 L141.2,53.9 L141.2,56.0 L141.3,58.1 L141.3,60.3 L141.4,62.4 L141.4,64.5 L141.5,66.7 L141.5,68.8 L141.6,70.9 L141.6,73.1 L141.6,75.2 L141.7,77.3 L141.7,79.5 L141.8,81.6 L141.8,83.8 L141.9,85.9 L141.9,88.0 L142.0,90.2 L142.0,92.3 L142.1,94.4 L142.1,96.6 L142.1,98.7 L142.2,100.8 L142.2,103.0 L142.3,105.1 L142.3,107.2 L142.4,109.4 L142.4,111.5 L142.5,113.6 L142.5,115.8 L142.5,117.9 L142.6,120.0 L142.6,122.2 L142.7,124.3 L142.7,126.4 L142.8,128.6 L142.8,130.7 L142.9,132.8 L142.9,135.0 L143.0,137.1 L143.0,139.2 L143.1,141.4 L143.1,143.5 L143.2,145.6 L143.2,147.8 L143.3,149.9 L143.3,152.0 L143.4,154.2 L143.4,156.3 L143.5,158.4 L143.5,160.6 L143.6,162.7 L143.6,164.8 L143.7,167.0 L143.7,169.1 L143.8,171.2 L143.8,173.4 L143.9,175.5 L143.9,177.6 L144.0,179.8 L144.0,181.9 L144.1,184.0 L144.1,186.2 L144.2,188.3 L144.2,190.4 L144.3,192.6 L144.4,194.7 L144.4,196.8 L144.5,199.0 L144.5,201.1 L144.6,203.2 L144.6,205.4 L144.7,207.5 L144.8,209.6 L144.8,211.8 L144.9,213.9 L144.9,216.0 L145.0,218.2 L145.1,220.3 L145.1,222.4 L145.2,224.6 L145.3,226.7 L145.3,228.8 L145.4,231.0 L145.4,233.1 L145.5,235.2 L145.6,237.4 L145.6,239.5 L145.7,241.6 L145.8,243.8 L145.8,245.9 L145.9,248.0 L146.0,250.2 L146.1,252.3 L146.1,254.4 L146.2,256.6 L146.3,258.7 L146.3,260.8 L146.4,263.0 L146.5,265.1 L146.5,267.2 L146.6,269.4 L146.7,271.5 L146.8,273.6 L146.8,275.8 L146.9,277.9 L147.0,280.0 L147.1,282.2 L147.2,284.3 L147.2,286.4 L147.3,288.6 L147.4,290.7 L147.5,292.8 L147.6,294.9 L147.6,297.1 L147.7,299.2 L147.8,301.3 L147.9,303.5 L148.0,305.6 L148.1,307.7 L148.2,309.9 L148.2,312.0 L148.3,314.1 L148.4,316.3 L148.5,318.4 L148.6,320.5 L148.7,322.7 L148.8,324.8 L148.9,326.9 L149.0,329.1 L149.1,331.2 L149.2,333.3 L149.3,335.5 L149.4,337.6 L149.5,339.7 L149.6,341.8 L149.7,344.0 L149.9,346.1 L150.0,348.2 L150.1,350.4 L150.2,352.5 L150.3,354.6 L150.4,356.8 L150.6,358.9 L150.7,361.0 L150.8,363.2 L150.9,365.3 L151.1,367.4 L151.2,369.5 L151.3,371.7 L151.4,373.8 L151.6,375.9 L151.7,378.1 L151.8,380.2 L152.0,382.3 L152.1,384.5 L152.2,386.6 L152.4,388.7 L152.5,390.9 L152.6,393.0 L152.8,395.1 L152.9,397.2 L153.0,399.4 L153.2,401.5 L153.3,403.6 L153.4,405.8 L153.6,407.9 L153.7,410.0 L153.9,412.2 L154.0,414.3 L154.1,416.4 L154.3,418.5 L154.4,420.7 L154.6,422.8 L154.7,424.9 L154.9,427.1 L155.0,429.2 L155.2,431.3 L155.4,433.4 L155.5,435.6 L155.7,437.7 L155.9,439.8 L156.1,441.9 L156.3,444.1 L156.5,446.2 L156.7,448.3 L156.9,450.4 L157.1,452.6 L157.4,454.7 L157.6,456.8 L157.9,458.9 L158.1,461.0 L158.3,463.2 L158.6,465.3 L158.8,467.4 L159.0,469.5 L159.3,471.7 L159.5,473.8 L159.8,475.9 L160.0,478.0 L160.3,480.1 L160.5,482.3 L160.8,484.4 L161.0,486.5 L161.3,488.6 L161.6,490.7 L161.9,492.8 L162.2,494.9 L162.6,497.0 L162.9,499.2 L163.3,501.3 L163.6,503.4 L164.0,505.5 L164.3,507.6 L164.7,509.7 L165.1,511.8 L165.5,513.9 L165.8,516.0 L166.2,518.1 L166.6,520.3 L167.0,522.3 L167.6,524.3 L168.5,526.2 L169.7,528.0 L170.8,529.9 L171.4,531.9 L172.0,533.9 L172.5,536.0 L173.0,538.1 L173.4,540.2 L173.9,542.3 L174.4,544.4 L175.0,546.5 L175.6,548.5 L176.3,550.5 L177.1,552.5 L178.0,554.4 L178.8,556.4 L179.7,558.3 L180.6,560.3 L181.5,562.2 L182.5,564.1 L183.4,566.0 L184.4,567.9 L185.4,569.8 L186.5,571.7 L187.6,573.5 L188.8,575.3 L190.0,577.0 L191.2,578.7 L192.6,580.4 L193.2,581.1" fill="none" stroke="#ff0000" stroke-width="3.05" stroke-dasharray="21.403 9.173" stroke-dashoffset="9.11" clip-path="url(#ca)"/>
<path d="M193.2,581.1 L194.0,582.0 L195.5,583.6 L197.0,585.1 L198.5,586.6 L200.1,588.0 L201.7,589.4 L203.3,590.8 L205.0,592.1 L206.7,593.4 L208.5,594.6 L210.2,595.9 L212.1,597.0 L213.9,598.0 L215.8,598.9 L217.8,599.8 L219.8,600.6 L221.8,601.3 L223.8,602.1 L225.8,602.8 L227.8,603.5 L229.8,604.2 L231.9,604.8 L233.9,605.3 L236.0,605.8 L238.1,606.3 L240.2,606.7 L242.3,607.2 L244.3,607.7 L246.4,608.2 L248.5,608.8 L250.5,609.3 L252.6,609.8 L254.7,610.3 L256.8,610.7 L258.9,611.2 L261.0,611.5 L263.1,611.9 L265.2,612.1 L267.3,612.4 L269.4,612.6 L271.6,612.8 L273.7,613.0 L275.8,613.2 L277.1,613.3" fill="none" stroke="#ff0000" stroke-width="3.05" stroke-dasharray="21.511 9.219" stroke-dashoffset="26.12" clip-path="url(#ca)"/>
<path d="M277.1,613.3 L277.9,613.3 L280.1,613.4 L282.2,613.5 L284.3,613.5 L286.5,613.6 L288.6,613.6 L290.7,613.6 L292.9,613.6 L295.0,613.6 L297.2,613.5 L299.3,613.4 L301.4,613.3 L303.5,613.2 L305.7,613.1 L307.8,612.9 L309.9,612.7 L312.0,612.4 L314.1,612.1 L316.2,611.6 L318.3,611.1 L320.4,610.5 L322.4,609.9 L324.4,609.2 L326.4,608.3 L328.4,607.4 L330.3,606.4 L332.0,605.3 L333.7,604.0 L335.2,602.5 L335.4,602.2" fill="none" stroke="#ff0000" stroke-width="3.05" stroke-dasharray="21.344 9.147" stroke-dashoffset="25.92" clip-path="url(#ca)"/>
<path d="M335.4,602.2 L336.7,600.9 L338.0,599.2 L339.3,597.5 L340.4,595.7 L341.5,593.8 L342.5,591.9 L343.4,590.0 L344.4,588.1 L345.3,586.1 L346.1,584.2 L346.9,582.2 L347.7,580.2 L348.3,578.2 L349.0,576.1 L349.6,574.1 L350.2,572.0 L350.7,570.0 L351.2,567.9 L351.7,565.8 L352.2,563.7 L352.7,561.7 L353.1,559.6 L353.6,557.5 L354.0,555.4 L354.4,553.3 L354.8,551.2 L355.2,549.1 L355.5,547.0 L355.9,544.9 L356.2,542.8 L356.6,540.7 L356.9,538.6 L357.3,536.5 L357.7,534.4 L358.1,532.3 L358.5,530.2 L358.8,528.1 L359.1,526.0 L359.4,523.9 L359.7,521.7 L360.1,519.6 L360.4,517.5 L360.8,515.4 L361.2,513.3 L361.5,511.2 L361.9,509.1 L362.3,507.0 L362.7,504.9 L363.1,502.8 L363.5,500.7 L363.9,498.6 L364.3,496.5 L364.7,494.4 L365.1,492.3 L365.6,490.3 L366.0,488.2 L366.5,486.1 L366.7,485.4" fill="none" stroke="#ff0000" stroke-width="3.05" stroke-dasharray="21.375 9.161" stroke-dashoffset="25.95" clip-path="url(#ca)"/>
<path d="M366.7,485.4 L367.0,484.0 L367.5,482.0 L368.1,479.9 L368.7,477.8 L369.3,475.8 L369.9,473.8 L370.5,471.7 L371.2,469.7 L371.9,467.7 L372.6,465.6 L373.3,463.6 L374.1,461.6 L374.8,459.7 L375.6,457.7 L376.5,455.7 L377.3,453.8 L378.2,451.8 L379.1,449.9 L380.0,447.9 L380.9,446.0 L381.8,444.1 L382.8,442.2 L383.9,440.4 L385.0,438.5 L386.2,436.8 L387.4,435.0 L388.7,433.3 L390.0,431.6 L391.3,429.9 L392.6,428.2 L393.9,426.5 L395.3,424.9 L396.6,423.2 L397.9,421.5 L399.3,419.9 L400.6,418.2 L402.1,416.7 L403.7,415.2 L405.3,413.8 L406.9,412.4 L408.4,411.0 L409.9,409.4 L411.3,407.8 L411.9,407.2" fill="none" stroke="#ff0000" stroke-width="3.05" stroke-dasharray="21.440 9.188" stroke-dashoffset="26.03" clip-path="url(#ca)"/>
<path d="M411.9,407.2 L412.8,406.2 L414.2,404.7 L415.7,403.1 L417.2,401.6 L418.7,400.1 L420.3,398.7 L421.9,397.3 L423.5,395.9 L425.2,394.6 L426.9,393.3 L428.7,392.1 L430.4,390.8 L432.1,389.5 L433.6,388.1 L435.2,386.6 L436.8,385.2 L438.4,383.8 L440.1,382.5 L441.8,381.1 L443.5,379.9 L445.2,378.6 L446.9,377.3 L448.6,376.1 L450.4,374.8 L452.1,373.6 L453.8,372.3 L455.5,371.0 L457.2,369.7 L458.8,368.3 L458.9,368.2" fill="none" stroke="#ff0000" stroke-width="3.05" stroke-dasharray="21.418 9.179" stroke-dashoffset="26.01" clip-path="url(#ca)"/>
<path d="M458.9,368.2 L460.4,366.8 L462.0,365.4 L463.6,364.1 L465.3,362.8 L467.0,361.5 L468.7,360.2 L470.4,358.9 L472.1,357.6 L473.8,356.4 L475.6,355.1 L477.3,353.9 L479.0,352.6 L480.8,351.4 L482.5,350.2 L484.2,348.9 L486.0,347.7 L487.7,346.4 L489.5,345.2 L491.2,344.0 L492.9,342.7 L494.7,341.5 L496.4,340.2 L498.2,339.0 L499.9,337.8 L501.6,336.5 L503.4,335.3 L505.1,334.1 L506.9,332.8 L508.6,331.6 L510.3,330.4 L512.1,329.1 L513.8,327.9 L515.6,326.7 L517.3,325.4 L519.1,324.2 L520.8,323.0 L522.5,321.7 L524.3,320.5 L526.0,319.2 L527.7,318.0 L529.5,316.8 L531.2,315.5 L532.9,314.3 L534.7,313.1 L536.4,311.8 L538.2,310.6 L539.9,309.3 L541.6,308.1 L543.4,306.9 L545.1,305.7 L546.9,304.4 L548.6,303.2 L550.4,302.0 L552.1,300.7 L553.9,299.5 L555.6,298.3 L557.4,297.1 L559.1,295.8 L560.9,294.6 L562.6,293.4 L564.4,292.2 L566.1,291.0 L567.9,289.8 L569.6,288.5 L571.4,287.3 L573.1,286.1 L574.9,284.9 L576.7,283.7 L578.4,282.5 L580.2,281.3 L581.9,280.1 L582.9,279.5" fill="none" stroke="#ff0000" stroke-width="3.05" stroke-dasharray="21.354 9.152" stroke-dashoffset="25.93" clip-path="url(#ca)"/>
<path d="M582.9,279.5 L583.7,278.9 L585.5,277.7 L587.2,276.5 L589.0,275.3 L590.8,274.1 L592.6,272.9 L594.3,271.7 L596.1,270.5 L597.9,269.4 L599.6,268.2 L601.4,267.0 L603.2,265.8 L605.0,264.6 L606.8,263.4 L608.5,262.3 L610.3,261.1 L612.1,259.9 L613.9,258.7 L615.7,257.6 L617.4,256.4 L619.2,255.2 L621.0,254.0 L622.8,252.9 L624.6,251.7 L626.4,250.5 L628.1,249.4 L629.9,248.2 L631.7,247.0 L633.5,245.8 L635.3,244.7 L637.1,243.5 L638.9,242.4 L640.7,241.2 L642.4,240.0 L644.2,238.9 L646.0,237.7 L647.8,236.5 L649.6,235.4 L651.4,234.2 L653.2,233.1 L655.0,231.9 L656.8,230.8 L658.6,229.6 L660.4,228.5 L662.2,227.3 L664.0,226.2 L665.8,225.0 L667.6,223.8 L669.4,222.7 L671.2,221.5 L673.0,220.4 L674.8,219.3 L676.6,218.1 L678.4,217.0 L680.2,215.8 L682.0,214.7 L683.8,213.5 L685.6,212.4 L687.4,211.2 L689.2,210.1 L691.0,209.0 L692.8,207.8 L694.6,206.7 L696.4,205.6 L698.2,204.4 L700.0,203.3 L701.8,202.1 L703.6,201.0 L705.4,199.9 L707.2,198.7 L709.0,197.6 L710.9,196.5 L712.7,195.3 L714.5,194.2 L716.3,193.1 L718.1,192.0 L719.9,190.8 L721.7,189.7 L723.5,188.6 L725.3,187.5 L727.2,186.3 L729.0,185.2 L730.8,184.1 L732.6,183.0 L734.4,181.8 L736.2,180.7 L738.1,179.6 L739.9,178.5 L741.7,177.4 L743.5,176.3 L745.3,175.1 L747.1,174.0 L749.0,172.9 L750.8,171.8 L752.6,170.7 L754.4,169.6 L756.2,168.4 L758.1,167.3 L759.9,166.2 L761.7,165.1 L763.5,164.0 L765.4,162.9 L767.2,161.8 L769.0,160.7 L770.8,159.6 L772.7,158.5 L774.5,157.4 L776.3,156.3 L778.1,155.2 L780.0,154.1 L781.8,152.9 L783.6,151.8 L785.4,150.7 L787.3,149.6 L789.1,148.5 L790.9,147.4 L792.8,146.4 L794.6,145.3 L796.4,144.2 L798.3,143.1 L800.1,142.0 L801.9,140.9 L803.8,139.8 L805.6,138.7 L807.4,137.6 L809.3,136.5 L811.1,135.4 L812.9,134.3 L814.8,133.2 L816.6,132.1 L818.4,131.1 L820.3,130.0 L822.1,128.9" fill="none" stroke="#ff0000" stroke-width="3.05" stroke-dasharray="21.155 9.067" stroke-dashoffset="25.69" clip-path="url(#ca)"/>
<path d="M132.9,-60.0 L132.9,-58.2 L132.9,-56.3 L132.9,-54.5 L133.0,-52.6 L133.0,-50.8 L133.0,-49.0 L133.0,-47.1 L133.0,-45.3 L133.0,-43.4 L133.0,-41.6 L133.0,-39.8 L133.1,-37.9 L133.1,-36.1 L133.1,-34.2 L133.1,-32.4 L133.1,-30.5 L133.1,-28.7 L133.1,-26.9 L133.1,-25.0 L133.2,-23.2 L133.2,-21.3 L133.2,-19.5 L133.2,-17.7 L133.2,-15.8 L133.2,-14.0 L133.2,-12.1 L133.2,-10.3 L133.3,-8.5 L133.3,-6.6 L133.3,-4.8 L133.3,-2.9 L133.3,-1.1 L133.3,0.7 L133.3,2.6 L133.3,4.4 L133.4,6.3 L133.4,8.1 L133.4,9.9 L133.4,11.8 L133.4,13.6 L133.4,15.5 L133.4,17.3 L133.4,19.1 L133.5,21.0 L133.5,22.8 L133.5,24.7 L133.5,26.5 L133.5,28.4 L133.5,30.2 L133.5,32.0 L133.5,33.9 L133.5,35.7 L133.6,37.6 L133.6,39.4 L133.6,41.2 L133.6,43.1 L133.6,44.9 L133.6,46.8 L133.6,48.6 L133.6,50.4 L133.6,52.3 L133.7,54.1 L133.7,56.0 L133.7,57.8 L133.7,59.6 L133.7,61.5 L133.7,63.3 L133.7,65.2 L133.7,67.0 L133.7,68.8 L133.7,70.7 L133.8,72.5 L133.8,74.4 L133.8,76.2 L133.8,78.1 L133.8,79.9 L133.8,81.7 L133.8,83.6 L133.8,85.4 L133.8,87.3 L133.8,89.1 L133.9,90.9 L133.9,92.8 L133.9,94.6 L133.9,96.5 L133.9,98.3 L133.9,100.1 L133.9,102.0 L133.9,103.8 L133.9,105.7 L133.9,107.5 L134.0,109.3 L134.0,111.2 L134.0,113.0 L134.0,114.9 L134.0,116.7 L134.0,118.5 L134.0,120.4 L134.0,122.2 L134.0,124.1 L134.1,125.9 L134.1,127.8 L134.1,129.6 L134.1,131.4 L134.1,133.3 L134.1,135.1 L134.1,137.0 L134.1,138.8 L134.1,140.6 L134.1,142.5 L134.2,144.3 L134.2,146.2 L134.2,148.0 L134.2,149.8 L134.2,151.7 L134.2,153.5 L134.2,155.4 L134.2,157.2 L134.2,159.0 L134.3,160.9 L134.3,162.7 L134.3,164.6 L134.3,166.4 L134.3,168.2 L134.3,170.1 L134.3,171.9 L134.3,173.8 L134.3,175.6 L134.4,177.5 L134.4,179.3 L134.4,181.1 L134.4,183.0 L134.4,184.8 L134.4,186.7 L134.4,188.5 L134.4,190.3 L134.4,192.2 L134.5,194.0 L134.5,195.9 L134.5,197.7 L134.5,199.5 L134.5,201.4 L134.5,203.2 L134.5,205.1 L134.5,206.9 L134.6,208.7 L134.6,210.6 L134.6,212.4 L134.6,214.3 L134.6,216.1 L134.6,217.9 L134.6,219.8 L134.6,221.6 L134.7,223.5 L134.7,225.3 L134.7,227.1 L134.7,229.0 L134.7,230.8 L134.7,232.7 L134.7,234.5 L134.7,236.4 L134.8,238.2 L134.8,240.0 L134.8,241.9 L134.8,243.7 L134.8,245.6 L134.8,247.4 L134.8,249.2 L134.8,251.1 L134.9,252.9 L134.9,254.8 L134.9,256.6 L134.9,258.4 L134.9,260.3 L134.9,262.1 L134.9,264.0 L135.0,265.8 L135.0,267.6 L135.0,269.5 L135.0,271.3 L135.0,273.2 L135.0,275.0 L135.0,276.8 L135.1,278.7 L135.1,280.5 L135.1,282.4 L135.1,284.2 L135.1,286.1 L135.1,287.9 L135.1,289.7 L135.2,291.6 L135.2,293.4 L135.2,295.3 L135.2,297.1 L135.2,298.9 L135.2,300.8 L135.3,302.6 L135.3,304.5 L135.3,306.3 L135.3,308.1 L135.3,310.0 L135.3,311.8 L135.4,313.7 L135.4,315.5 L135.4,317.3 L135.4,319.2 L135.4,321.0 L135.4,322.9 L135.5,324.7 L135.5,326.5 L135.5,328.4 L135.5,330.2 L135.5,332.1 L135.6,333.9 L135.6,335.7 L135.6,337.6 L135.6,339.4 L135.6,341.3 L135.6,343.1 L135.7,345.0 L135.7,346.8 L135.7,348.6 L135.7,350.5 L135.7,352.3 L135.8,354.2 L135.8,356.0 L135.8,357.8 L135.8,359.7 L135.8,361.5 L135.9,363.4 L135.9,365.2 L135.9,367.0 L135.9,368.9 L135.9,370.7 L136.0,372.6 L136.0,374.4 L136.0,376.2 L136.0,378.1 L136.1,379.9 L136.1,381.8 L136.1,383.6 L136.1,385.5 L136.2,387.3 L136.2,389.1 L136.2,391.0 L136.3,392.8 L136.3,394.7 L136.3,396.5 L136.4,398.3 L136.4,400.2 L136.4,402.0 L136.5,403.9 L136.5,405.7 L136.5,407.5 L136.6,409.4 L136.6,411.2 L136.6,413.1 L136.7,414.9 L136.7,416.7 L136.8,418.6 L136.8,420.4 L136.9,422.3 L136.9,424.1 L137.0,425.9 L137.1,427.8 L137.2,429.6 L137.3,431.4 L137.4,433.3 L137.5,435.1 L137.6,437.0 L137.7,438.8 L137.7,440.6 L137.8,442.5 L137.8,444.3 L137.8,446.2 L137.9,448.0 L137.9,449.8 L137.9,451.7 L138.0,453.5 L138.0,455.4 L138.0,457.2 L138.1,459.0 L138.1,460.9 L138.1,462.7 L138.2,464.6 L138.2,466.4 L138.2,468.2 L138.3,470.1 L138.4,471.9 L138.5,473.8 L138.6,475.6 L138.7,477.4 L138.8,479.3 L138.9,481.1 L139.0,483.0 L139.1,484.8 L139.2,486.6 L139.3,488.5 L139.4,490.3 L139.5,492.1 L139.5,494.0 L139.6,495.8 L139.6,497.7 L139.7,499.5 L139.7,501.3 L139.8,503.2 L139.8,505.0 L139.9,506.9 L140.0,508.7 L140.0,510.5 L140.1,512.4 L140.2,514.2 L140.3,516.1 L140.4,517.9 L140.5,519.7 L140.6,521.6 L140.8,523.4 L140.9,525.2 L141.1,527.1 L141.3,528.9 L141.4,530.7 L141.6,532.6 L141.8,534.4 L141.9,536.2 L142.1,538.1 L142.2,539.9 L142.4,541.7 L142.5,543.6 L142.7,545.4 L142.8,547.3 L143.0,549.1 L143.2,550.9 L143.4,552.7 L143.6,554.6 L143.8,556.4 L144.1,558.2 L144.3,560.0 L144.6,561.9 L144.9,563.7 L145.1,565.5 L145.3,567.3 L145.6,569.2 L145.9,571.0 L146.2,572.8 L146.6,574.6 L147.0,576.4 L147.4,578.2 L147.9,580.0 L148.3,581.8 L148.7,583.6 L149.2,585.3 L149.6,587.1 L150.1,588.9 L150.6,590.7 L151.2,592.4 L151.9,594.1 L152.7,595.8 L153.5,597.4 L154.4,599.0 L155.3,600.6 L156.2,602.3 L157.1,603.9 L158.1,605.5 L159.2,607.0 L160.3,608.3 L161.6,609.6 L163.1,610.8 L164.5,612.0 L166.1,613.1 L167.7,614.0 L169.2,614.8 L170.9,615.6 L172.6,616.3 L174.4,616.9 L176.2,617.5 L177.9,618.0 L179.7,618.5 L181.5,619.0 L183.2,619.5 L185.0,619.9 L186.9,620.3 L188.7,620.6 L190.5,620.9 L192.3,621.2 L194.1,621.4 L195.9,621.6 L197.8,621.8 L199.6,621.9 L201.5,622.1 L203.3,622.2 L205.1,622.3 L207.0,622.4 L208.8,622.5 L210.6,622.6 L212.5,622.6 L214.3,622.7 L216.2,622.8 L218.0,622.9 L219.8,623.0 L221.7,623.0 L223.5,623.1 L225.4,623.2 L227.2,623.3 L229.0,623.3 L230.9,623.4 L232.7,623.4 L234.6,623.4 L236.4,623.4 L238.2,623.5 L240.1,623.5 L241.9,623.5 L243.8,623.5 L245.6,623.5 L247.4,623.5 L249.3,623.5 L251.1,623.5 L253.0,623.6 L254.8,623.6 L256.6,623.6 L258.5,623.6 L260.3,623.6 L262.2,623.6 L264.0,623.6 L265.9,623.6 L267.7,623.6 L269.5,623.6 L271.4,623.7 L273.2,623.7 L275.1,623.7 L276.9,623.7 L278.7,623.7 L280.6,623.7 L282.4,623.7 L284.3,623.7 L286.1,623.7 L287.9,623.7 L289.8,623.7 L291.6,623.7 L293.5,623.7 L295.3,623.7 L297.1,623.7 L299.0,623.7 L300.8,623.7 L302.7,623.7 L304.5,623.7 L306.4,623.7 L308.2,623.7 L310.0,623.7 L311.9,623.6 L313.7,623.6 L315.6,623.6 L317.4,623.6 L319.3,623.5 L321.1,623.5 L322.9,623.5 L324.8,623.4 L326.6,623.4 L328.4,623.3 L330.3,623.3 L332.1,623.2 L333.9,622.9 L335.8,622.6 L337.6,622.2 L339.4,621.9 L341.2,621.4 L342.9,620.8 L344.6,620.1 L346.3,619.4 L348.0,618.6 L349.6,617.6 L351.0,616.5 L352.2,615.2 L353.3,613.6 L354.2,611.9 L354.7,610.3 L355.2,608.5 L355.6,606.7 L355.9,604.9 L356.2,603.0 L356.5,601.2 L356.7,599.3 L356.9,597.5 L357.1,595.7 L357.3,593.8 L357.5,592.0 L357.6,590.2 L357.7,588.3 L357.8,586.5 L357.9,584.7 L358.0,582.8 L358.1,581.0 L358.2,579.1 L358.3,577.3 L358.3,575.5 L358.4,573.6 L358.5,571.8 L358.5,569.9 L358.6,568.1 L358.7,566.3 L358.7,564.4 L358.7,562.8" fill="none" stroke="#0000ff" stroke-width="3.05" stroke-dasharray="21.337 9.144 3.048 9.144" stroke-dashoffset="42.50" clip-path="url(#ca)"/>
<path d="M358.7,562.8 L358.7,562.6 L358.8,560.7 L358.8,558.9 L358.9,557.1 L358.9,555.2 L359.0,553.4 L359.1,551.5 L359.2,549.7 L359.2,547.9 L359.3,546.0 L359.4,544.2 L359.4,542.3 L359.5,540.5 L359.5,538.7 L359.6,536.8 L359.7,535.0 L359.7,533.1 L359.7,531.3 L359.8,529.5 L359.8,527.6 L359.8,525.8 L359.8,523.9 L359.7,522.1 L359.7,520.3 L359.7,518.4 L359.6,516.6 L359.6,514.7 L359.6,512.9 L359.7,511.1 L359.7,509.2 L359.8,507.4 L359.8,505.5 L359.9,503.7 L359.9,501.9 L360.0,500.0 L360.0,498.2 L360.0,496.3 L360.0,494.5 L360.1,492.7 L360.1,490.8 L360.1,489.0 L360.1,487.1 L360.2,485.3 L360.2,483.4 L360.2,481.6 L360.3,479.8 L360.3,477.9 L360.4,476.1 L360.4,474.2 L360.5,472.4 L360.5,470.6 L360.6,468.7 L360.7,466.9 L360.8,465.1 L360.9,463.2 L361.0,461.4 L361.2,459.5 L361.3,457.7 L361.4,455.9 L361.5,454.0 L361.6,452.2 L361.7,450.3 L361.9,448.5 L362.0,446.6 L362.2,444.8 L362.4,443.0 L362.6,441.2 L362.9,439.4 L363.2,437.6 L363.7,435.7 L364.2,433.9 L364.7,432.2 L365.4,430.5 L366.0,428.8 L366.9,427.2 L367.8,425.7 L368.9,424.1 L370.0,422.6 L371.1,421.1 L372.2,419.6 L373.2,418.1 L374.3,416.5 L375.3,415.0 L376.4,413.5 L377.4,412.0 L378.5,410.5 L379.7,409.1 L380.8,407.7 L382.0,406.3 L383.2,404.9 L384.5,403.5 L385.7,402.2 L387.0,400.9 L387.7,400.2" fill="none" stroke="#0000ff" stroke-width="3.05" stroke-dasharray="21.322 9.138 3.046 9.138" stroke-dashoffset="25.89" clip-path="url(#ca)"/>
<path d="M387.7,400.2 L388.3,399.5 L389.6,398.2 L390.9,396.9 L392.2,395.6 L393.5,394.4 L394.9,393.1 L396.2,391.8 L397.5,390.6 L398.9,389.3 L400.3,388.1 L401.6,386.9 L403.0,385.7 L404.4,384.5 L405.8,383.3 L407.2,382.1 L408.6,380.9 L410.0,379.7 L411.4,378.5 L412.8,377.3 L414.2,376.1 L415.6,374.9 L417.1,373.8 L418.5,372.6 L419.9,371.4 L421.3,370.2 L422.7,369.0 L424.2,367.9 L425.6,366.7 L427.0,365.5 L428.4,364.3 L429.8,363.1 L431.2,361.9 L432.6,360.7 L434.0,359.5 L435.4,358.3 L436.7,357.1 L438.1,355.9 L439.5,354.7 L440.9,353.5 L442.3,352.3 L443.7,351.1 L445.1,349.9 L446.5,348.7 L447.9,347.5 L449.3,346.3 L450.7,345.1 L452.1,343.8 L453.5,342.6 L454.9,341.4 L456.3,340.2 L457.7,339.0 L459.0,337.8 L460.4,336.6 L461.8,335.4 L463.2,334.2 L464.6,333.0 L466.0,331.8 L467.4,330.6 L468.8,329.4 L470.2,328.2 L471.6,327.0 L473.0,325.8 L474.4,324.6 L475.8,323.4 L477.2,322.2 L478.6,321.0 L480.0,319.8 L481.4,318.6 L482.8,317.4 L484.2,316.2 L485.6,315.0 L487.0,313.8 L488.4,312.6 L489.7,311.4 L491.1,310.2 L492.5,309.0 L493.9,307.8 L495.3,306.6 L496.7,305.4 L498.1,304.2 L499.5,303.0 L500.9,301.8 L502.3,300.6 L503.7,299.4 L505.1,298.2 L506.5,297.0 L507.9,295.8 L509.3,294.6 L510.7,293.4 L512.1,292.3 L513.5,291.1 L514.9,289.9 L516.3,288.7 L517.7,287.5 L519.1,286.3 L520.5,285.1 L521.9,283.9 L523.3,282.7 L524.7,281.5 L526.1,280.3 L527.5,279.1 L528.9,277.9 L530.3,276.7 L531.7,275.5 L533.1,274.3 L534.5,273.1 L535.9,271.9 L537.3,270.7 L538.7,269.5 L540.1,268.3 L541.5,267.1 L542.9,265.9 L544.3,264.7 L545.7,263.5 L547.1,262.3 L548.5,261.1 L549.0,260.7" fill="none" stroke="#0000ff" stroke-width="3.05" stroke-dasharray="21.330 9.141 3.047 9.141" stroke-dashoffset="25.90" clip-path="url(#ca)"/>
<path d="M549.0,260.7 L549.9,259.9 L551.3,258.7 L552.7,257.5 L554.1,256.4 L555.5,255.2 L556.9,254.0 L558.3,252.8 L559.7,251.6 L561.1,250.4 L562.5,249.2 L563.9,248.0 L565.3,246.8 L566.7,245.6 L568.1,244.4 L569.5,243.2 L570.9,242.0 L572.3,240.8 L573.7,239.6 L575.1,238.4 L576.5,237.2 L577.9,236.0 L579.3,234.9 L580.7,233.7 L582.1,232.5 L583.5,231.3 L584.9,230.1 L586.3,228.9 L587.7,227.7 L589.1,226.5 L590.5,225.3 L591.9,224.1 L593.3,222.9 L594.7,221.7 L596.1,220.5 L597.5,219.3 L598.9,218.2 L600.3,217.0 L601.7,215.8 L603.1,214.6 L604.5,213.4 L605.9,212.2 L607.3,211.0 L608.7,209.8 L610.1,208.6 L611.5,207.4 L612.9,206.2 L614.3,205.0 L615.7,203.8 L617.1,202.7 L618.5,201.5 L619.9,200.3 L621.3,199.1 L622.7,197.9 L624.2,196.7 L625.6,195.5 L627.0,194.3 L628.4,193.1 L629.8,191.9 L631.2,190.8 L632.6,189.6 L634.0,188.4 L635.4,187.2 L636.8,186.0 L638.2,184.8 L639.6,183.6 L641.0,182.4 L642.4,181.2 L643.8,180.0 L645.2,178.9 L646.6,177.7 L648.0,176.5 L649.4,175.3 L650.8,174.1 L652.2,172.9 L653.6,171.7 L655.1,170.5 L656.5,169.3 L657.9,168.2 L659.3,167.0 L660.7,165.8 L662.1,164.6 L663.5,163.4 L664.9,162.2 L666.3,161.0 L667.7,159.8 L669.1,158.7 L670.5,157.5 L671.9,156.3 L673.3,155.1 L674.7,153.9 L676.1,152.7 L677.6,151.5 L679.0,150.3 L680.4,149.2 L681.8,148.0 L683.2,146.8 L684.6,145.6 L686.0,144.4 L687.4,143.2 L688.8,142.0 L690.2,140.8 L691.6,139.7 L693.0,138.5 L694.4,137.3 L695.8,136.1 L697.3,134.9 L698.7,133.7 L700.1,132.5 L701.5,131.4 L702.9,130.2 L704.3,129.0 L705.7,127.8 L707.1,126.6 L708.5,125.4 L709.9,124.2 L711.3,123.1 L712.7,121.9 L714.2,120.7 L715.6,119.5 L717.0,118.3 L718.4,117.1 L719.8,116.0 L721.2,114.8 L722.6,113.6 L724.0,112.4 L725.4,111.2 L726.8,110.0 L728.2,108.9 L729.7,107.7 L731.1,106.5 L732.5,105.3 L733.9,104.1 L735.3,102.9 L736.7,101.8 L738.1,100.6 L739.5,99.4 L740.9,98.2 L742.4,97.0 L743.8,95.8 L745.2,94.7 L746.6,93.5 L748.0,92.3 L749.4,91.1 L750.8,89.9 L752.2,88.7 L753.6,87.6 L755.0,86.4 L756.5,85.2 L757.9,84.0 L759.3,82.8 L760.7,81.7 L762.1,80.5 L763.5,79.3 L764.9,78.1 L766.3,76.9 L767.8,75.7 L769.2,74.6 L770.6,73.4 L772.0,72.2 L773.4,71.0 L774.8,69.8 L776.2,68.7 L777.6,67.5 L779.0,66.3 L780.5,65.1 L781.9,63.9 L783.3,62.8 L784.7,61.6 L786.1,60.4 L787.5,59.2 L788.9,58.0 L790.4,56.9 L791.8,55.7 L793.2,54.5 L794.6,53.3 L796.0,52.1 L797.4,51.0 L798.8,49.8 L800.2,48.6 L801.7,47.4 L803.1,46.2 L804.5,45.1 L805.9,43.9 L807.3,42.7 L808.7,41.5 L810.1,40.4 L811.6,39.2 L813.0,38.0 L814.4,36.8 L815.8,35.6" fill="none" stroke="#0000ff" stroke-width="3.05" stroke-dasharray="21.305 9.131 3.044 9.131" stroke-dashoffset="25.86" clip-path="url(#ca)"/>
<rect x="128.00" y="12.60" width="694.10" height="612.40" fill="none" stroke="#000" stroke-width="2.00"/>
<line x1="149.74" y1="1329.90" x2="149.74" y2="1321.90" stroke="#000" stroke-width="1.50"/>
<line x1="149.74" y1="717.50" x2="149.74" y2="725.50" stroke="#000" stroke-width="1.50"/>
<line x1="172.87" y1="1329.90" x2="172.87" y2="1321.90" stroke="#000" stroke-width="1.50"/>
<line x1="172.87" y1="717.50" x2="172.87" y2="725.50" stroke="#000" stroke-width="1.50"/>
<line x1="196.01" y1="1329.90" x2="196.01" y2="1321.90" stroke="#000" stroke-width="1.50"/>
<line x1="196.01" y1="717.50" x2="196.01" y2="725.50" stroke="#000" stroke-width="1.50"/>
<line x1="219.15" y1="1329.90" x2="219.15" y2="1321.90" stroke="#000" stroke-width="1.50"/>
<line x1="219.15" y1="717.50" x2="219.15" y2="725.50" stroke="#000" stroke-width="1.50"/>
<line x1="242.28" y1="1329.90" x2="242.28" y2="1313.90" stroke="#000" stroke-width="1.50"/>
<line x1="242.28" y1="717.50" x2="242.28" y2="733.50" stroke="#000" stroke-width="1.50"/>
<line x1="265.42" y1="1329.90" x2="265.42" y2="1321.90" stroke="#000" stroke-width="1.50"/>
<line x1="265.42" y1="717.50" x2="265.42" y2="725.50" stroke="#000" stroke-width="1.50"/>
<line x1="288.56" y1="1329.90" x2="288.56" y2="1321.90" stroke="#000" stroke-width="1.50"/>
<line x1="288.56" y1="717.50" x2="288.56" y2="725.50" stroke="#000" stroke-width="1.50"/>
<line x1="311.69" y1="1329.90" x2="311.69" y2="1321.90" stroke="#000" stroke-width="1.50"/>
<line x1="311.69" y1="717.50" x2="311.69" y2="725.50" stroke="#000" stroke-width="1.50"/>
<line x1="334.83" y1="1329.90" x2="334.83" y2="1321.90" stroke="#000" stroke-width="1.50"/>
<line x1="334.83" y1="717.50" x2="334.83" y2="725.50" stroke="#000" stroke-width="1.50"/>
<line x1="357.97" y1="1329.90" x2="357.97" y2="1313.90" stroke="#000" stroke-width="1.50"/>
<line x1="357.97" y1="717.50" x2="357.97" y2="733.50" stroke="#000" stroke-width="1.50"/>
<line x1="381.10" y1="1329.90" x2="381.10" y2="1321.90" stroke="#000" stroke-width="1.50"/>
<line x1="381.10" y1="717.50" x2="381.10" y2="725.50" stroke="#000" stroke-width="1.50"/>
<line x1="404.24" y1="1329.90" x2="404.24" y2="1321.90" stroke="#000" stroke-width="1.50"/>
<line x1="404.24" y1="717.50" x2="404.24" y2="725.50" stroke="#000" stroke-width="1.50"/>
<line x1="427.38" y1="1329.90" x2="427.38" y2="1321.90" stroke="#000" stroke-width="1.50"/>
<line x1="427.38" y1="717.50" x2="427.38" y2="725.50" stroke="#000" stroke-width="1.50"/>
<line x1="450.51" y1="1329.90" x2="450.51" y2="1321.90" stroke="#000" stroke-width="1.50"/>
<line x1="450.51" y1="717.50" x2="450.51" y2="725.50" stroke="#000" stroke-width="1.50"/>
<line x1="473.65" y1="1329.90" x2="473.65" y2="1313.90" stroke="#000" stroke-width="1.50"/>
<line x1="473.65" y1="717.50" x2="473.65" y2="733.50" stroke="#000" stroke-width="1.50"/>
<line x1="496.79" y1="1329.90" x2="496.79" y2="1321.90" stroke="#000" stroke-width="1.50"/>
<line x1="496.79" y1="717.50" x2="496.79" y2="725.50" stroke="#000" stroke-width="1.50"/>
<line x1="519.92" y1="1329.90" x2="519.92" y2="1321.90" stroke="#000" stroke-width="1.50"/>
<line x1="519.92" y1="717.50" x2="519.92" y2="725.50" stroke="#000" stroke-width="1.50"/>
<line x1="543.06" y1="1329.90" x2="543.06" y2="1321.90" stroke="#000" stroke-width="1.50"/>
<line x1="543.06" y1="717.50" x2="543.06" y2="725.50" stroke="#000" stroke-width="1.50"/>
<line x1="566.20" y1="1329.90" x2="566.20" y2="1321.90" stroke="#000" stroke-width="1.50"/>
<line x1="566.20" y1="717.50" x2="566.20" y2="725.50" stroke="#000" stroke-width="1.50"/>
<line x1="589.33" y1="1329.90" x2="589.33" y2="1313.90" stroke="#000" stroke-width="1.50"/>
<line x1="589.33" y1="717.50" x2="589.33" y2="733.50" stroke="#000" stroke-width="1.50"/>
<line x1="612.47" y1="1329.90" x2="612.47" y2="1321.90" stroke="#000" stroke-width="1.50"/>
<line x1="612.47" y1="717.50" x2="612.47" y2="725.50" stroke="#000" stroke-width="1.50"/>
<line x1="635.61" y1="1329.90" x2="635.61" y2="1321.90" stroke="#000" stroke-width="1.50"/>
<line x1="635.61" y1="717.50" x2="635.61" y2="725.50" stroke="#000" stroke-width="1.50"/>
<line x1="658.74" y1="1329.90" x2="658.74" y2="1321.90" stroke="#000" stroke-width="1.50"/>
<line x1="658.74" y1="717.50" x2="658.74" y2="725.50" stroke="#000" stroke-width="1.50"/>
<line x1="681.88" y1="1329.90" x2="681.88" y2="1321.90" stroke="#000" stroke-width="1.50"/>
<line x1="681.88" y1="717.50" x2="681.88" y2="725.50" stroke="#000" stroke-width="1.50"/>
<line x1="705.02" y1="1329.90" x2="705.02" y2="1313.90" stroke="#000" stroke-width="1.50"/>
<line x1="705.02" y1="717.50" x2="705.02" y2="733.50" stroke="#000" stroke-width="1.50"/>
<line x1="728.15" y1="1329.90" x2="728.15" y2="1321.90" stroke="#000" stroke-width="1.50"/>
<line x1="728.15" y1="717.50" x2="728.15" y2="725.50" stroke="#000" stroke-width="1.50"/>
<line x1="751.29" y1="1329.90" x2="751.29" y2="1321.90" stroke="#000" stroke-width="1.50"/>
<line x1="751.29" y1="717.50" x2="751.29" y2="725.50" stroke="#000" stroke-width="1.50"/>
<line x1="774.43" y1="1329.90" x2="774.43" y2="1321.90" stroke="#000" stroke-width="1.50"/>
<line x1="774.43" y1="717.50" x2="774.43" y2="725.50" stroke="#000" stroke-width="1.50"/>
<line x1="797.56" y1="1329.90" x2="797.56" y2="1321.90" stroke="#000" stroke-width="1.50"/>
<line x1="797.56" y1="717.50" x2="797.56" y2="725.50" stroke="#000" stroke-width="1.50"/>
<line x1="126.60" y1="1305.40" x2="134.60" y2="1305.40" stroke="#000" stroke-width="1.50"/>
<line x1="820.70" y1="1305.40" x2="812.70" y2="1305.40" stroke="#000" stroke-width="1.50"/>
<line x1="126.60" y1="1280.91" x2="134.60" y2="1280.91" stroke="#000" stroke-width="1.50"/>
<line x1="820.70" y1="1280.91" x2="812.70" y2="1280.91" stroke="#000" stroke-width="1.50"/>
<line x1="126.60" y1="1256.41" x2="134.60" y2="1256.41" stroke="#000" stroke-width="1.50"/>
<line x1="820.70" y1="1256.41" x2="812.70" y2="1256.41" stroke="#000" stroke-width="1.50"/>
<line x1="126.60" y1="1231.92" x2="134.60" y2="1231.92" stroke="#000" stroke-width="1.50"/>
<line x1="820.70" y1="1231.92" x2="812.70" y2="1231.92" stroke="#000" stroke-width="1.50"/>
<line x1="126.60" y1="1207.42" x2="142.60" y2="1207.42" stroke="#000" stroke-width="1.50"/>
<line x1="820.70" y1="1207.42" x2="804.70" y2="1207.42" stroke="#000" stroke-width="1.50"/>
<line x1="126.60" y1="1182.92" x2="134.60" y2="1182.92" stroke="#000" stroke-width="1.50"/>
<line x1="820.70" y1="1182.92" x2="812.70" y2="1182.92" stroke="#000" stroke-width="1.50"/>
<line x1="126.60" y1="1158.43" x2="134.60" y2="1158.43" stroke="#000" stroke-width="1.50"/>
<line x1="820.70" y1="1158.43" x2="812.70" y2="1158.43" stroke="#000" stroke-width="1.50"/>
<line x1="126.60" y1="1133.93" x2="134.60" y2="1133.93" stroke="#000" stroke-width="1.50"/>
<line x1="820.70" y1="1133.93" x2="812.70" y2="1133.93" stroke="#000" stroke-width="1.50"/>
<line x1="126.60" y1="1109.44" x2="134.60" y2="1109.44" stroke="#000" stroke-width="1.50"/>
<line x1="820.70" y1="1109.44" x2="812.70" y2="1109.44" stroke="#000" stroke-width="1.50"/>
<line x1="126.60" y1="1084.94" x2="142.60" y2="1084.94" stroke="#000" stroke-width="1.50"/>
<line x1="820.70" y1="1084.94" x2="804.70" y2="1084.94" stroke="#000" stroke-width="1.50"/>
<line x1="126.60" y1="1060.44" x2="134.60" y2="1060.44" stroke="#000" stroke-width="1.50"/>
<line x1="820.70" y1="1060.44" x2="812.70" y2="1060.44" stroke="#000" stroke-width="1.50"/>
<line x1="126.60" y1="1035.95" x2="134.60" y2="1035.95" stroke="#000" stroke-width="1.50"/>
<line x1="820.70" y1="1035.95" x2="812.70" y2="1035.95" stroke="#000" stroke-width="1.50"/>
<line x1="126.60" y1="1011.45" x2="134.60" y2="1011.45" stroke="#000" stroke-width="1.50"/>
<line x1="820.70" y1="1011.45" x2="812.70" y2="1011.45" stroke="#000" stroke-width="1.50"/>
<line x1="126.60" y1="986.96" x2="134.60" y2="986.96" stroke="#000" stroke-width="1.50"/>
<line x1="820.70" y1="986.96" x2="812.70" y2="986.96" stroke="#000" stroke-width="1.50"/>
<line x1="126.60" y1="962.46" x2="142.60" y2="962.46" stroke="#000" stroke-width="1.50"/>
<line x1="820.70" y1="962.46" x2="804.70" y2="962.46" stroke="#000" stroke-width="1.50"/>
<line x1="126.60" y1="937.96" x2="134.60" y2="937.96" stroke="#000" stroke-width="1.50"/>
<line x1="820.70" y1="937.96" x2="812.70" y2="937.96" stroke="#000" stroke-width="1.50"/>
<line x1="126.60" y1="913.47" x2="134.60" y2="913.47" stroke="#000" stroke-width="1.50"/>
<line x1="820.70" y1="913.47" x2="812.70" y2="913.47" stroke="#000" stroke-width="1.50"/>
<line x1="126.60" y1="888.97" x2="134.60" y2="888.97" stroke="#000" stroke-width="1.50"/>
<line x1="820.70" y1="888.97" x2="812.70" y2="888.97" stroke="#000" stroke-width="1.50"/>
<line x1="126.60" y1="864.48" x2="134.60" y2="864.48" stroke="#000" stroke-width="1.50"/>
<line x1="820.70" y1="864.48" x2="812.70" y2="864.48" stroke="#000" stroke-width="1.50"/>
<line x1="126.60" y1="839.98" x2="142.60" y2="839.98" stroke="#000" stroke-width="1.50"/>
<line x1="820.70" y1="839.98" x2="804.70" y2="839.98" stroke="#000" stroke-width="1.50"/>
<line x1="126.60" y1="815.48" x2="134.60" y2="815.48" stroke="#000" stroke-width="1.50"/>
<line x1="820.70" y1="815.48" x2="812.70" y2="815.48" stroke="#000" stroke-width="1.50"/>
<line x1="126.60" y1="790.99" x2="134.60" y2="790.99" stroke="#000" stroke-width="1.50"/>
<line x1="820.70" y1="790.99" x2="812.70" y2="790.99" stroke="#000" stroke-width="1.50"/>
<line x1="126.60" y1="766.49" x2="134.60" y2="766.49" stroke="#000" stroke-width="1.50"/>
<line x1="820.70" y1="766.49" x2="812.70" y2="766.49" stroke="#000" stroke-width="1.50"/>
<line x1="126.60" y1="742.00" x2="134.60" y2="742.00" stroke="#000" stroke-width="1.50"/>
<line x1="820.70" y1="742.00" x2="812.70" y2="742.00" stroke="#000" stroke-width="1.50"/>
<path d="M132.4,650.0 L132.4,653.3 L132.4,656.6 L132.5,659.9 L132.5,663.2 L132.5,666.5 L132.5,669.9 L132.6,673.2 L132.6,676.5 L132.6,679.8 L132.6,683.1 L132.7,686.4 L132.7,689.7 L132.7,693.0 L132.7,696.3 L132.8,699.6 L132.8,702.9 L132.8,706.2 L132.8,709.6 L132.9,712.9 L132.9,716.2 L132.9,719.5 L132.9,722.8 L133.0,726.1 L133.0,729.4 L133.0,732.7 L133.0,736.0 L133.1,739.3 L133.1,742.6 L133.1,745.9 L133.2,749.3 L133.2,752.6 L133.2,755.9 L133.2,759.2 L133.3,762.5 L133.3,765.8 L133.3,769.1 L133.4,772.4 L133.4,775.7 L133.4,779.0 L133.4,782.3 L133.5,785.6 L133.5,788.9 L133.5,792.3 L133.6,795.6 L133.6,798.9 L133.6,802.2 L133.6,805.5 L133.7,808.8 L133.7,812.1 L133.7,815.4 L133.8,818.7 L133.8,822.0 L133.8,825.3 L133.9,828.6 L133.9,832.0 L133.9,835.3 L133.9,838.6 L134.0,841.9 L134.0,845.2 L134.0,848.5 L134.1,851.8 L134.1,855.1 L134.1,858.4 L134.2,861.7 L134.2,865.0 L134.2,868.3 L134.2,871.7 L134.3,875.0 L134.3,878.3 L134.3,881.6 L134.4,884.9 L134.4,888.2 L134.4,891.5 L134.5,894.8 L134.5,898.1 L134.5,901.4 L134.5,904.7 L134.6,908.0 L134.6,911.4 L134.6,914.7 L134.7,918.0 L134.7,921.3 L134.7,924.6 L134.7,927.9 L134.8,931.2 L134.8,934.5 L134.8,937.8 L134.8,941.1 L134.9,944.4 L134.9,947.7 L134.9,951.1 L135.0,954.4 L135.0,957.7 L135.0,961.0 L135.0,964.3 L135.1,967.6 L135.1,970.9 L135.1,974.2 L135.2,977.5 L135.2,980.8 L135.3,984.1 L135.3,987.4 L135.3,990.8 L135.4,994.1 L135.4,997.4 L135.5,1000.7 L135.5,1004.0 L135.6,1007.3 L135.6,1010.6 L135.7,1013.9 L135.7,1017.2 L135.8,1020.5 L135.9,1023.8 L135.9,1027.1 L136.0,1030.5 L136.1,1033.8 L136.1,1037.1 L136.2,1040.4 L136.3,1043.7 L136.4,1047.0 L136.4,1050.3 L136.5,1053.6 L136.6,1056.9 L136.7,1060.2 L136.7,1063.5 L136.8,1066.8 L136.9,1070.1 L137.0,1073.5 L137.0,1076.8 L137.1,1080.1 L137.2,1083.4 L137.2,1086.7 L137.3,1090.0 L137.4,1093.3 L137.4,1096.6 L137.5,1099.9 L137.5,1103.2 L137.6,1106.5 L137.6,1109.8 L137.7,1113.1 L137.8,1116.5 L137.8,1119.8 L137.9,1123.1 L138.0,1126.4 L138.1,1129.7 L138.3,1133.0 L138.5,1136.3 L138.6,1139.6 L138.8,1142.9 L138.9,1146.2 L139.1,1149.5 L139.2,1152.8 L139.3,1156.1 L139.4,1159.4 L139.5,1162.7 L139.6,1166.0 L139.7,1169.3 L139.8,1172.7 L139.9,1176.0 L140.1,1179.3 L140.2,1182.6 L140.5,1185.9 L140.7,1189.2 L140.9,1192.5 L141.1,1195.8 L141.3,1199.1 L141.5,1202.4 L141.7,1205.7 L141.8,1209.0 L142.0,1212.3 L142.2,1215.6 L142.4,1218.9 L142.5,1222.2 L142.7,1225.5 L143.0,1228.8 L143.2,1232.1 L143.6,1235.4 L144.0,1238.7 L144.4,1242.0 L144.8,1245.2 L145.3,1248.5 L145.7,1251.8 L146.2,1255.1 L146.7,1258.4 L147.2,1261.6 L147.8,1264.9 L148.5,1268.1 L149.2,1271.3 L150.0,1274.5 L150.8,1277.8 L151.7,1281.0 L152.6,1284.1 L153.6,1287.3 L154.7,1290.4 L155.9,1293.5 L157.3,1296.5 L159.0,1299.4 L160.9,1302.0 L163.1,1304.6 L165.4,1307.0 L168.0,1309.1 L170.8,1310.6 L173.8,1311.8 L177.1,1312.9 L180.3,1313.9 L183.4,1315.0 L186.5,1316.1 L189.7,1317.0 L192.9,1317.7 L196.2,1318.4 L196.5,1318.4" fill="none" stroke="#0000ff" stroke-width="3.05" stroke-dasharray="3.040 9.119" stroke-dashoffset="5.44" clip-path="url(#cb)"/>
<path d="M196.5,1318.4 L199.5,1318.8 L202.8,1319.0 L206.1,1319.0 L209.4,1318.9 L212.7,1318.8 L216.0,1318.6 L219.2,1318.1 L222.5,1317.3 L225.7,1316.5 L228.9,1315.7 L232.1,1314.9 L235.4,1314.1 L238.6,1313.5 L241.9,1313.2 L245.2,1312.9 L248.5,1312.6 L251.8,1312.4 L255.1,1312.1 L258.4,1311.9 L261.7,1311.8 L265.0,1311.8 L268.3,1311.8 L271.6,1311.8 L274.9,1311.8 L278.2,1311.9 L281.5,1311.9 L284.8,1312.1 L288.2,1312.2 L291.5,1312.3 L294.8,1312.4 L298.1,1312.5 L301.4,1312.6 L304.7,1312.7 L308.0,1312.8 L311.3,1312.9 L314.6,1313.0 L317.9,1313.1 L321.2,1313.2 L324.5,1313.3 L327.8,1313.4 L331.1,1313.5 L334.4,1313.6 L337.8,1313.8 L341.1,1313.9 L344.4,1314.1 L347.7,1314.2 L351.0,1314.4 L354.3,1314.6 L357.6,1314.7 L360.9,1314.8 L364.2,1315.0 L367.5,1315.1 L370.8,1315.2 L374.1,1315.3 L377.4,1315.5 L380.7,1315.6 L384.0,1315.7 L387.3,1315.8 L390.6,1315.9 L393.9,1316.1 L397.3,1316.2 L400.6,1316.3 L403.9,1316.4 L407.2,1316.5 L410.5,1316.6 L413.8,1316.7 L417.1,1316.7 L420.4,1316.8 L423.7,1316.9 L427.0,1317.0 L430.3,1317.0 L433.6,1317.1 L436.9,1317.2 L440.3,1317.2 L443.6,1317.3 L446.9,1317.3 L450.2,1317.4 L453.5,1317.5 L456.8,1317.5 L460.1,1317.6 L463.4,1317.6 L466.7,1317.7 L470.0,1317.7 L473.3,1317.8 L476.6,1317.9 L479.9,1317.9 L483.3,1318.0 L486.6,1318.0 L489.9,1318.1 L493.2,1318.1 L496.5,1318.2 L499.8,1318.2 L503.1,1318.3 L506.4,1318.3 L509.7,1318.4 L513.0,1318.4 L516.3,1318.5 L519.6,1318.5 L523.0,1318.6 L526.3,1318.6 L529.6,1318.7 L532.9,1318.7 L536.2,1318.8 L539.5,1318.8 L542.8,1318.8 L546.1,1318.9 L549.4,1318.9 L552.7,1319.0 L556.0,1319.0 L559.3,1319.0 L562.6,1319.1 L566.0,1319.1 L569.3,1319.1 L572.6,1319.2 L575.9,1319.2 L579.2,1319.3 L582.5,1319.3 L585.8,1319.3 L589.1,1319.4 L592.4,1319.4 L595.7,1319.4 L599.0,1319.5 L602.3,1319.5 L605.7,1319.5 L609.0,1319.5 L612.3,1319.6 L615.6,1319.6 L618.9,1319.6 L622.2,1319.7 L625.5,1319.7 L628.8,1319.7 L632.1,1319.8 L635.4,1319.8 L638.7,1319.8 L642.0,1319.8 L645.4,1319.9 L648.7,1319.9 L652.0,1319.9 L655.3,1319.9 L658.6,1320.0 L661.9,1320.0 L665.2,1320.0 L668.5,1320.0 L671.8,1320.1 L675.1,1320.1 L678.4,1320.1 L681.7,1320.1 L685.1,1320.2 L688.4,1320.2 L691.7,1320.2 L695.0,1320.2 L698.3,1320.3 L701.6,1320.3 L704.9,1320.3 L708.2,1320.3 L711.5,1320.4 L714.8,1320.4 L718.1,1320.4 L721.4,1320.4 L724.8,1320.5 L728.1,1320.5 L731.4,1320.5 L734.7,1320.5 L738.0,1320.5 L741.3,1320.6 L744.6,1320.6 L747.9,1320.6 L751.2,1320.6 L754.5,1320.7 L757.8,1320.7 L761.1,1320.7 L764.5,1320.7 L767.8,1320.7 L771.1,1320.7 L774.4,1320.8 L777.7,1320.8 L781.0,1320.8 L784.3,1320.8 L787.6,1320.8 L790.9,1320.9 L794.2,1320.9 L797.5,1320.9 L800.8,1320.9 L804.2,1320.9 L807.5,1320.9 L810.8,1321.0 L814.1,1321.0 L817.4,1321.0 L820.7,1321.0" fill="none" stroke="#0000ff" stroke-width="3.05" stroke-dasharray="3.036 9.107" stroke-dashoffset="7.58" clip-path="url(#cb)"/>
<path d="M126.6,799.3 L127.3,801.9 L128.0,804.6 L128.7,807.2 L129.2,809.9 L129.7,812.6 L130.2,815.3 L130.5,817.9 L130.9,820.6 L131.2,823.4 L131.5,826.1 L131.8,828.8 L132.1,831.5 L132.4,834.2 L132.7,836.9 L133.0,839.6 L133.3,842.3 L133.6,845.1 L133.9,847.8 L134.1,850.5 L134.4,853.2 L134.7,855.9 L134.9,858.6 L135.2,861.3 L135.4,864.1 L135.7,866.8 L135.9,869.5 L136.1,872.2 L136.3,874.9 L136.6,877.6 L136.8,880.4 L137.0,883.1 L137.2,885.8 L137.4,888.5 L137.6,891.2 L137.8,894.0 L138.0,896.7 L138.2,899.4 L138.3,902.1 L138.5,904.8 L138.7,907.6 L138.8,910.3 L139.0,913.0 L139.2,915.7 L139.3,918.5 L139.5,921.2 L139.7,923.9 L139.8,926.6 L140.0,929.3 L140.1,932.1 L140.3,934.8 L140.4,937.5 L140.6,940.2 L140.8,943.0 L140.9,945.7 L141.1,948.4 L141.2,951.1 L141.4,953.8 L141.6,956.6 L141.7,959.3 L141.9,962.0 L142.1,964.7 L142.3,967.5 L142.5,970.2 L142.6,972.9 L142.8,975.6 L143.0,978.3 L143.2,981.1 L143.4,983.8 L143.5,986.5 L143.7,989.2 L143.9,991.9 L144.1,994.7 L144.3,997.4 L144.5,1000.1 L144.7,1002.8 L144.9,1005.5 L145.1,1008.3 L145.3,1011.0 L145.5,1013.7 L145.7,1016.4 L145.8,1019.1 L146.0,1021.9 L146.2,1024.6 L146.4,1027.3 L146.6,1030.0 L146.8,1032.7 L147.0,1035.5 L147.2,1038.2 L147.4,1040.9 L147.6,1043.6 L147.8,1046.4 L148.0,1049.1 L148.2,1051.8 L148.4,1054.5 L148.6,1057.2 L148.9,1060.0 L149.1,1062.7 L149.4,1065.4 L149.6,1068.1 L149.9,1070.8 L150.2,1073.5 L150.5,1076.2 L151.0,1078.9 L151.4,1081.6 L151.9,1084.3 L152.4,1087.0 L152.9,1089.7 L153.2,1092.4 L153.6,1095.1 L153.8,1097.8 L154.0,1100.5 L154.1,1103.2 L154.3,1105.9 L154.6,1108.6 L155.0,1111.3 L155.5,1114.0 L156.1,1116.7 L156.6,1119.4 L156.9,1122.1 L157.3,1124.8 L157.6,1127.5 L157.9,1130.2 L158.3,1132.9 L158.8,1135.6 L159.3,1138.3 L159.9,1140.9 L160.4,1143.6 L160.9,1146.3 L161.4,1149.0 L161.8,1151.7 L162.3,1154.3 L162.8,1157.0 L163.3,1159.7 L163.7,1162.4 L164.2,1165.1 L164.7,1167.8 L165.3,1170.4 L165.9,1173.1 L166.5,1175.8 L167.1,1178.4 L167.7,1181.1 L168.4,1183.7 L169.0,1186.4 L169.7,1189.0 L170.5,1191.6 L171.2,1194.2 L171.9,1196.9 L172.7,1199.5 L173.5,1202.1 L174.4,1204.7 L175.3,1207.2 L176.3,1209.8 L177.4,1212.3 L178.4,1214.8 L179.6,1217.3 L180.7,1219.8 L180.9,1220.1" fill="none" stroke="#ff0000" stroke-width="3.05" stroke-dasharray="3.056 9.167" stroke-dashoffset="9.63" clip-path="url(#cb)"/>
<path d="M180.9,1220.1 L181.9,1222.2 L183.2,1224.6 L184.5,1227.0 L186.0,1229.3 L187.4,1231.6 L189.0,1233.9 L190.6,1236.1 L192.3,1238.2 L194.1,1240.3 L195.9,1242.3 L197.9,1244.2 L199.9,1246.0 L202.0,1247.7 L204.2,1249.3 L206.5,1250.9 L208.7,1252.4 L211.0,1253.9 L213.3,1255.4 L215.7,1256.8 L218.0,1258.2 L220.3,1259.6 L222.7,1261.0 L225.0,1262.4 L227.3,1263.8 L229.7,1265.2 L232.1,1266.4 L234.2,1267.5" fill="none" stroke="#ff0000" stroke-width="3.05" stroke-dasharray="3.037 9.111" stroke-dashoffset="7.56" clip-path="url(#cb)"/>
<path d="M234.2,1267.5 L234.5,1267.7 L237.0,1268.9 L239.4,1270.1 L241.9,1271.3 L244.4,1272.5 L246.8,1273.6 L249.4,1274.7 L251.9,1275.6 L254.5,1276.4 L257.1,1277.1 L259.8,1277.8 L262.5,1278.3 L265.2,1278.6 L267.9,1278.9 L270.6,1279.2 L273.3,1279.4 L276.1,1279.6 L278.8,1279.8 L281.5,1280.0 L284.2,1280.1 L286.9,1280.2 L289.7,1280.3 L292.4,1280.3 L295.1,1280.4 L297.9,1280.4 L300.6,1280.5 L303.3,1280.7 L306.0,1281.0 L308.7,1281.3 L311.4,1281.7 L314.1,1282.1 L316.8,1282.6 L319.5,1283.0 L322.2,1283.5 L324.9,1283.9 L327.6,1284.2 L330.3,1284.6 L333.0,1284.9 L335.7,1285.1 L338.4,1285.4 L341.1,1285.7 L343.9,1286.0 L346.6,1286.2 L349.3,1286.5 L352.0,1286.7 L354.7,1286.9 L357.4,1287.2 L360.2,1287.4 L362.9,1287.6 L365.6,1287.8 L368.3,1288.0 L371.0,1288.2 L373.8,1288.4 L376.5,1288.6 L379.2,1288.8 L381.9,1289.0 L384.6,1289.2 L387.4,1289.3 L390.1,1289.5 L392.8,1289.7 L395.5,1289.8 L398.2,1290.0 L401.0,1290.2 L403.7,1290.3 L406.4,1290.5 L409.1,1290.6 L411.9,1290.8 L414.6,1290.9 L417.3,1291.1 L420.0,1291.2 L422.7,1291.4 L425.5,1291.5 L428.2,1291.7 L430.9,1291.8 L433.6,1292.0 L436.4,1292.1 L439.1,1292.2 L441.8,1292.4 L444.5,1292.5 L447.3,1292.6 L450.0,1292.7 L452.7,1292.8 L455.4,1292.9 L458.2,1293.1 L460.9,1293.2 L463.6,1293.3 L466.3,1293.4 L469.1,1293.4 L471.8,1293.5 L474.5,1293.6 L477.2,1293.7 L480.0,1293.8 L482.7,1293.9 L485.4,1294.0 L488.1,1294.1 L490.9,1294.1 L493.6,1294.2 L496.3,1294.3 L499.0,1294.4 L501.8,1294.5 L504.5,1294.6 L507.2,1294.7 L509.9,1294.8 L512.7,1294.9 L515.4,1295.0 L518.1,1295.1 L520.8,1295.2 L523.6,1295.3 L526.3,1295.4 L529.0,1295.5 L531.7,1295.6 L534.5,1295.7 L537.2,1295.8 L539.9,1295.9 L542.6,1296.0 L545.4,1296.1 L548.1,1296.2 L550.8,1296.2 L553.5,1296.3 L556.3,1296.4 L559.0,1296.5 L561.7,1296.6 L564.4,1296.7 L567.2,1296.8 L569.9,1296.8 L572.6,1296.9 L575.3,1297.0 L578.1,1297.1 L580.8,1297.2 L583.5,1297.2 L586.2,1297.3 L589.0,1297.4 L591.7,1297.5 L594.4,1297.5 L597.2,1297.6 L599.9,1297.7 L602.6,1297.8 L605.3,1297.8 L608.1,1297.9 L610.8,1298.0 L613.5,1298.1 L616.2,1298.1 L619.0,1298.2 L621.7,1298.3 L624.4,1298.4 L627.1,1298.4 L629.9,1298.5 L632.6,1298.6 L635.3,1298.6 L638.0,1298.7 L640.8,1298.8 L643.5,1298.8 L646.2,1298.9 L648.9,1299.0 L651.7,1299.0 L654.4,1299.1 L657.1,1299.2 L659.8,1299.2 L662.6,1299.3 L665.3,1299.4 L668.0,1299.4 L670.8,1299.5 L673.5,1299.6 L676.2,1299.6 L678.9,1299.7 L681.7,1299.8 L684.4,1299.8 L687.1,1299.9 L689.8,1299.9 L692.6,1300.0 L695.3,1300.1 L698.0,1300.1 L700.7,1300.2 L703.5,1300.2 L706.2,1300.3 L708.9,1300.4 L711.6,1300.4 L714.4,1300.5 L717.1,1300.5 L719.8,1300.6 L722.5,1300.7 L725.3,1300.7 L728.0,1300.8 L730.7,1300.8 L733.5,1300.9 L736.2,1300.9 L738.9,1301.0 L741.6,1301.0 L744.4,1301.1 L747.1,1301.1 L749.8,1301.2 L752.5,1301.2 L755.3,1301.3 L758.0,1301.3 L760.7,1301.4 L763.4,1301.4 L766.2,1301.5 L768.9,1301.5 L771.6,1301.6 L774.3,1301.6 L777.1,1301.7 L779.8,1301.7 L782.5,1301.8 L785.3,1301.8 L788.0,1301.9 L790.7,1301.9 L793.4,1302.0 L796.2,1302.0 L798.9,1302.1 L801.6,1302.1 L804.3,1302.1 L807.1,1302.2 L809.8,1302.2 L812.5,1302.3 L815.2,1302.3 L818.0,1302.4 L820.7,1302.4" fill="none" stroke="#ff0000" stroke-width="3.05" stroke-dasharray="3.037 9.111" stroke-dashoffset="7.59" clip-path="url(#cb)"/>
<path d="M126.6,799.3 L127.0,800.6 L127.3,802.0 L127.7,803.3 L128.1,804.7 L128.4,806.0 L128.7,807.4 L129.0,808.8 L129.3,810.1 L129.5,811.5 L129.8,812.9 L130.0,814.2 L130.2,815.6 L130.4,817.0 L130.6,818.3 L130.8,819.7 L130.9,821.1 L131.1,822.5 L131.3,823.9 L131.4,825.3 L131.6,826.7 L131.7,828.0 L131.9,829.4 L132.1,830.8 L132.2,832.2 L132.4,833.6 L132.5,835.0 L132.7,836.4 L132.8,837.7 L133.0,839.1 L133.1,840.5 L133.3,841.9 L133.4,843.3 L133.6,844.7 L133.7,846.0 L133.8,847.4 L134.0,848.8 L134.1,850.2 L134.3,851.6 L134.4,853.0 L134.5,854.4 L134.7,855.7 L134.8,857.1 L134.9,858.5 L135.0,859.9 L135.2,861.3 L135.3,862.7 L135.4,864.1 L135.5,865.5 L135.7,866.8 L135.8,868.2 L135.9,869.6 L136.0,871.0 L136.1,872.4 L136.2,873.8 L136.3,875.2 L136.5,876.6 L136.6,877.9 L136.7,879.3 L136.8,880.7 L136.9,882.1 L137.0,883.5 L137.1,884.9 L137.2,886.3 L137.3,887.7 L137.4,889.1 L137.5,890.4 L137.6,891.8 L137.7,893.2 L137.8,894.6 L137.9,896.0 L138.0,897.4 L138.2,898.8 L138.3,900.2 L138.4,901.6 L138.5,902.9 L138.6,904.3 L138.7,905.7 L138.8,907.1 L138.9,908.5 L139.0,909.9 L139.1,911.3 L139.2,912.7 L139.3,914.1 L139.4,915.4 L139.5,916.8 L139.6,918.2 L139.7,919.6 L139.8,921.0 L139.9,922.4 L140.0,923.8 L140.1,925.2 L140.2,926.6 L140.3,927.9 L140.3,929.3 L140.4,930.7 L140.5,932.1 L140.6,933.5 L140.7,934.9 L140.8,936.3 L140.9,937.7 L141.0,939.1 L141.1,940.4 L141.2,941.8 L141.3,943.2 L141.4,944.6 L141.5,946.0 L141.6,947.4 L141.7,948.8 L141.8,950.2 L141.9,951.6 L142.0,952.9 L142.1,954.3 L142.3,955.7 L142.4,957.1 L142.5,958.5 L142.6,959.9 L142.7,961.3 L142.8,962.7 L142.9,964.1 L143.0,965.4 L143.1,966.8 L143.2,968.2 L143.3,969.6 L143.4,971.0 L143.5,972.4 L143.6,973.8 L143.7,975.2 L143.8,976.5 L144.0,977.9 L144.1,979.3 L144.2,980.7 L144.3,982.1 L144.4,983.5 L144.5,984.9 L144.6,986.3 L144.7,987.7 L144.8,989.0 L145.0,990.4 L145.1,991.8 L145.2,993.2 L145.3,994.6 L145.4,996.0 L145.5,997.4 L145.6,998.8 L145.7,1000.1 L145.8,1001.5 L146.0,1002.9 L146.1,1004.3 L146.2,1005.7 L146.3,1007.1 L146.4,1008.5 L146.5,1009.9 L146.6,1011.2 L146.8,1012.6 L146.9,1014.0 L147.0,1015.4 L147.1,1016.8 L147.2,1018.2 L147.3,1019.6 L147.4,1021.0 L147.5,1022.4 L147.6,1023.7 L147.7,1025.1 L147.8,1026.5 L148.0,1027.9 L148.1,1029.3 L148.2,1030.7 L148.3,1032.1 L148.4,1033.5 L148.5,1034.9 L148.6,1036.2 L148.7,1037.6 L148.8,1039.0 L148.9,1040.4 L149.0,1041.8 L149.1,1043.2 L149.2,1044.6 L149.3,1046.0 L149.4,1047.4 L149.5,1048.7 L149.6,1050.1 L149.8,1051.5 L149.9,1052.9 L150.0,1054.3 L150.1,1055.7 L150.2,1057.1 L150.3,1058.5 L150.5,1059.9 L150.6,1061.2 L150.7,1062.6 L150.8,1064.0 L151.0,1065.4 L151.1,1066.8 L151.2,1068.2 L151.4,1069.5 L151.5,1070.9 L151.7,1072.3 L151.8,1073.7 L152.0,1075.1 L152.1,1076.5 L152.3,1077.8 L152.5,1079.2 L152.7,1080.6 L152.9,1082.0 L153.1,1083.4 L153.3,1084.7 L153.5,1086.1 L153.7,1087.5 L153.9,1088.9 L154.1,1090.3 L154.3,1091.6 L154.5,1093.0 L154.7,1094.4 L154.9,1095.8 L155.1,1097.1 L155.3,1098.5 L155.5,1099.9 L155.7,1101.3 L155.9,1102.7 L156.1,1104.0 L156.3,1105.4 L156.5,1106.8 L156.7,1108.2 L156.9,1109.6 L157.1,1110.9 L157.3,1112.3 L157.5,1113.7 L157.7,1115.1 L157.9,1116.4 L158.1,1117.8 L158.3,1119.2 L158.5,1120.6 L158.8,1121.9 L159.0,1123.3 L159.2,1124.7 L159.5,1126.1 L159.7,1127.4 L159.9,1128.8 L160.2,1130.2 L160.5,1131.5 L160.7,1132.9 L161.0,1134.3 L161.3,1135.6 L161.6,1137.0 L161.9,1138.3 L162.2,1139.7 L162.5,1141.1 L162.8,1142.4 L163.1,1143.8 L163.3,1145.2 L163.6,1146.5 L163.8,1147.9 L164.0,1149.3 L164.2,1150.7 L164.4,1152.0 L164.5,1152.4" fill="none" stroke="#ff0000" stroke-width="3.05" stroke-dasharray="21.586 9.251" stroke-dashoffset="9.95" clip-path="url(#cb)"/>
<path d="M164.5,1152.4 L164.6,1153.4 L164.8,1154.8 L165.1,1156.2 L165.3,1157.5 L165.6,1158.9 L165.8,1160.3 L166.1,1161.6 L166.4,1163.0 L166.8,1164.3 L167.1,1165.7 L167.5,1167.0 L167.8,1168.4 L168.2,1169.7 L168.6,1171.1 L168.9,1172.4 L169.3,1173.8 L169.7,1175.1 L170.1,1176.4 L170.5,1177.8 L170.9,1179.1 L171.4,1180.4 L171.8,1181.7 L172.3,1183.1 L172.7,1184.4 L173.2,1185.7 L173.7,1187.0 L174.2,1188.3 L174.8,1189.5 L175.3,1190.8 L175.9,1192.1 L176.4,1193.4 L177.0,1194.7 L177.6,1195.9 L178.2,1197.2 L178.9,1198.4 L179.5,1199.7 L180.2,1200.9 L180.8,1202.1 L181.5,1203.3 L182.2,1204.6 L182.9,1205.8 L183.6,1207.0 L184.3,1208.2 L185.0,1209.4 L185.8,1210.6 L186.6,1211.8 L187.5,1212.8 L188.4,1213.8 L189.4,1214.7 L190.5,1215.6 L191.7,1216.4 L192.9,1217.2 L194.2,1217.8 L195.4,1218.4 L196.7,1218.8 L198.0,1219.2 L199.4,1219.5 L200.8,1219.8 L202.2,1220.0 L203.6,1220.0 L205.0,1220.0 L206.4,1219.9 L207.8,1219.8 L209.1,1219.7 L210.5,1219.5 L211.9,1219.3 L212.4,1219.2" fill="none" stroke="#ff0000" stroke-width="3.05" stroke-dasharray="21.513 9.220" stroke-dashoffset="26.12" clip-path="url(#cb)"/>
<path d="M212.4,1219.2 L213.3,1219.0 L214.7,1218.8 L216.0,1218.7 L217.4,1218.7 L218.8,1218.7 L220.2,1218.8 L221.6,1218.8 L223.1,1218.9 L224.4,1219.0 L225.8,1219.1 L227.2,1219.2 L228.5,1219.4 L229.8,1219.8 L231.1,1220.3 L232.4,1220.9 L233.7,1221.5 L235.0,1222.2 L236.2,1222.9 L237.5,1223.5 L238.7,1224.2 L239.8,1225.0 L241.0,1225.8 L242.2,1226.6 L243.3,1227.3 L244.6,1228.0 L245.8,1228.5 L247.1,1229.0 L248.4,1229.5 L249.8,1230.0 L251.1,1230.4 L252.5,1230.8 L253.9,1231.0 L255.2,1231.2 L256.6,1231.2 L258.0,1231.1 L259.4,1230.9 L260.8,1230.7 L262.2,1230.4 L263.6,1230.1 L264.9,1229.8 L266.2,1229.4 L267.4,1228.9 L268.6,1228.2 L269.8,1227.4 L269.9,1227.4" fill="none" stroke="#ff0000" stroke-width="3.05" stroke-dasharray="21.361 9.155" stroke-dashoffset="25.94" clip-path="url(#cb)"/>
<path d="M269.9,1227.4 L271.0,1226.6 L272.1,1225.7 L273.3,1224.9 L274.4,1224.1 L275.6,1223.3 L276.7,1222.5 L277.8,1221.7 L279.0,1220.9 L280.1,1220.1 L281.2,1219.3 L282.4,1218.4 L283.5,1217.6 L284.6,1216.7 L285.7,1215.9 L286.7,1215.0 L287.8,1214.1 L288.9,1213.2 L289.9,1212.3 L290.9,1211.3 L291.9,1210.3 L292.9,1209.3 L293.8,1208.3 L294.7,1207.3 L295.7,1206.3 L296.7,1205.3 L297.7,1204.4 L298.8,1203.4 L299.8,1202.5 L300.9,1201.7 L302.0,1200.8 L303.1,1199.9 L304.2,1199.1 L305.3,1198.2 L306.4,1197.4 L307.5,1196.5 L308.6,1195.6 L309.7,1194.8 L310.8,1193.9 L311.8,1193.0 L312.9,1192.1 L313.9,1191.1 L314.9,1190.2 L315.9,1189.2 L316.9,1188.2 L317.9,1187.2 L318.9,1186.2 L319.8,1185.3 L320.8,1184.3 L321.8,1183.3 L322.8,1182.3 L323.9,1181.4 L324.9,1180.4 L325.9,1179.5 L326.9,1178.5 L327.9,1177.5 L328.9,1176.5 L329.9,1175.6 L330.9,1174.6 L331.8,1173.6 L332.8,1172.5 L333.7,1171.5 L334.6,1170.5 L335.5,1169.4 L336.3,1168.3 L337.1,1167.2 L337.7,1166.4" fill="none" stroke="#ff0000" stroke-width="3.05" stroke-dasharray="21.353 9.151" stroke-dashoffset="25.93" clip-path="url(#cb)"/>
<path d="M337.7,1166.4 L338.0,1166.0 L338.7,1164.9 L339.5,1163.7 L340.3,1162.6 L341.1,1161.4 L341.8,1160.2 L342.6,1159.1 L343.4,1157.9 L344.1,1156.7 L344.9,1155.5 L345.7,1154.4 L346.4,1153.2 L347.1,1152.0 L347.8,1150.8 L348.5,1149.5 L349.1,1148.3 L349.8,1147.1 L350.3,1145.8 L350.9,1144.6 L351.4,1143.3 L351.9,1142.0 L352.3,1140.7 L352.7,1139.3 L353.1,1138.0 L353.6,1136.7 L354.0,1135.3 L354.5,1134.0 L355.0,1132.7 L355.6,1131.5 L356.1,1130.2 L356.7,1128.9 L357.2,1127.6 L357.8,1126.3 L358.4,1125.1 L359.0,1123.8 L359.5,1122.5 L360.1,1121.2 L360.6,1120.0 L361.1,1118.7 L361.6,1117.4 L362.1,1116.1 L362.5,1114.7 L362.9,1113.4 L363.3,1112.1 L363.7,1110.7 L364.1,1109.4 L364.5,1108.1 L365.0,1106.8 L365.4,1105.4 L365.9,1104.1 L366.4,1102.8 L366.9,1101.5 L367.4,1100.2 L367.9,1098.9 L368.4,1097.6 L368.9,1096.3 L369.4,1095.0 L370.0,1093.8 L370.5,1092.5 L371.0,1091.2 L371.6,1089.9 L372.1,1088.6 L372.6,1087.3 L373.1,1086.0 L373.7,1084.7 L374.2,1083.4 L374.5,1082.8" fill="none" stroke="#ff0000" stroke-width="3.05" stroke-dasharray="21.397 9.170" stroke-dashoffset="25.98" clip-path="url(#cb)"/>
<path d="M374.5,1082.8 L374.7,1082.1 L375.2,1080.9 L375.8,1079.6 L376.3,1078.3 L376.9,1077.0 L377.5,1075.7 L378.0,1074.5 L378.6,1073.2 L379.1,1071.9 L379.7,1070.6 L380.3,1069.3 L380.8,1068.1 L381.4,1066.8 L382.0,1065.5 L382.6,1064.3 L383.2,1063.1 L383.9,1061.8 L384.5,1060.6 L385.2,1059.4 L385.9,1058.2 L386.7,1057.0 L387.4,1055.9 L388.2,1054.7 L389.0,1053.6 L389.8,1052.4 L390.6,1051.3 L391.4,1050.1 L392.2,1049.0 L393.0,1047.9 L393.8,1046.7 L394.7,1045.6 L395.5,1044.5 L396.3,1043.4 L397.1,1042.2 L398.0,1041.1 L398.8,1040.0 L399.6,1038.9 L400.5,1037.8 L401.3,1036.7 L402.1,1035.6 L403.0,1034.5 L403.8,1033.3 L404.7,1032.2 L405.5,1031.1 L406.4,1030.0 L407.3,1028.9 L408.1,1027.9 L409.1,1026.8 L410.0,1025.8 L411.0,1024.8 L412.0,1023.8 L413.0,1022.9 L414.0,1021.9 L415.0,1021.0 L416.1,1020.0 L417.1,1019.1 L418.2,1018.2 L419.2,1017.3 L420.3,1016.4 L421.3,1015.5 L422.4,1014.6 L423.4,1013.6 L424.4,1012.7 L425.4,1011.7 L426.4,1010.7 L427.4,1009.7 L427.6,1009.5" fill="none" stroke="#ff0000" stroke-width="3.05" stroke-dasharray="21.376 9.161" stroke-dashoffset="25.96" clip-path="url(#cb)"/>
<path d="M427.6,1009.5 L428.4,1008.7 L429.3,1007.7 L430.3,1006.8 L431.4,1005.8 L432.4,1004.9 L433.5,1004.1 L434.6,1003.2 L435.7,1002.3 L436.8,1001.5 L437.9,1000.7 L439.0,999.8 L440.2,999.0 L441.3,998.2 L442.4,997.4 L443.5,996.5 L444.7,995.7 L445.8,994.9 L446.9,994.0 L447.9,993.1 L449.0,992.2 L450.1,991.3 L451.1,990.4 L452.2,989.5 L453.3,988.6 L454.3,987.7 L455.4,986.9 L456.5,986.1 L457.7,985.3 L458.8,984.5 L460.0,983.7 L461.2,983.0 L462.3,982.2 L463.5,981.5 L464.7,980.7 L465.9,980.0 L467.1,979.2 L468.2,978.5 L469.4,977.7 L470.6,976.9 L471.7,976.1 L472.8,975.3 L473.9,974.5 L475.0,973.6 L476.1,972.7 L477.2,971.8 L478.2,970.9 L479.3,970.1 L480.4,969.3 L481.6,968.5 L482.7,967.7 L483.9,966.9 L485.1,966.2 L486.3,965.4 L487.4,964.7 L488.6,964.0 L489.8,963.3 L491.0,962.6 L492.2,961.8 L493.4,961.1 L494.6,960.4 L495.8,959.7 L497.0,958.9 L498.2,958.2 L499.3,957.4 L500.5,956.7 L501.7,955.9 L501.8,955.8" fill="none" stroke="#ff0000" stroke-width="3.05" stroke-dasharray="21.399 9.171" stroke-dashoffset="25.98" clip-path="url(#cb)"/>
<path d="M501.8,955.8 L502.8,955.1 L504.0,954.4 L505.2,953.6 L506.3,952.9 L507.5,952.1 L508.7,951.4 L509.9,950.6 L511.0,949.9 L512.2,949.1 L513.4,948.4 L514.6,947.6 L515.7,946.9 L516.9,946.2 L518.1,945.4 L519.3,944.7 L520.5,943.9 L521.6,943.2 L522.8,942.5 L524.0,941.7 L525.2,941.0 L526.4,940.2 L527.5,939.5 L528.7,938.8 L529.9,938.0 L531.1,937.3 L532.3,936.6 L533.4,935.8 L534.6,935.1 L535.8,934.3 L537.0,933.6 L538.2,932.9 L539.4,932.1 L540.5,931.4 L541.7,930.7 L542.9,929.9 L544.1,929.2 L545.3,928.4 L546.4,927.7 L547.6,927.0 L548.8,926.2 L550.0,925.5 L551.1,924.7 L552.3,924.0 L553.5,923.3 L554.7,922.5 L555.9,921.8 L557.0,921.0 L558.2,920.3 L559.4,919.5 L560.6,918.8 L561.8,918.1 L562.9,917.3 L564.1,916.6 L565.3,915.8 L566.5,915.1 L567.7,914.4 L568.8,913.6 L570.0,912.9 L571.2,912.1 L572.4,911.4 L573.6,910.7 L574.7,909.9 L575.9,909.2 L577.1,908.4 L578.3,907.7 L579.4,906.9 L580.6,906.2 L581.8,905.5 L583.0,904.7 L584.2,904.0 L585.3,903.2 L586.5,902.5 L587.7,901.8 L588.9,901.0 L590.1,900.3 L591.2,899.5 L592.4,898.8 L593.6,898.0 L594.8,897.3 L595.9,896.6 L597.1,895.8 L598.3,895.1 L599.5,894.3 L600.7,893.6 L601.8,892.9 L603.0,892.1 L604.2,891.4 L605.4,890.6 L606.6,889.9 L607.7,889.1 L608.9,888.4 L610.1,887.7 L611.3,886.9 L612.4,886.2 L613.6,885.4 L614.8,884.7 L616.0,884.0 L617.2,883.2 L618.3,882.5 L619.5,881.7 L620.7,881.0 L621.9,880.2 L623.0,879.5 L624.2,878.8 L625.4,878.0 L626.6,877.3 L627.8,876.5 L628.9,875.8 L630.1,875.0 L631.3,874.3 L632.5,873.6 L633.6,872.8 L634.8,872.1 L636.0,871.3 L637.2,870.6 L638.4,869.8 L639.5,869.1 L640.7,868.4 L641.9,867.6 L643.1,866.9 L644.3,866.1 L645.4,865.4 L646.6,864.6 L647.8,863.9 L649.0,863.2 L650.1,862.4 L651.3,861.7 L652.5,860.9 L653.7,860.2 L654.8,859.4 L656.0,858.7 L657.2,858.0 L658.4,857.2 L659.6,856.5 L660.7,855.7 L661.9,855.0 L663.1,854.2 L664.3,853.5 L665.4,852.7 L666.6,852.0 L667.8,851.3 L669.0,850.5 L670.2,849.8 L671.3,849.0 L672.5,848.3 L673.7,847.5 L674.9,846.8 L676.0,846.1 L677.2,845.3 L678.4,844.6 L679.6,843.8 L680.8,843.1 L681.9,842.3 L683.1,841.6 L684.3,840.8 L685.5,840.1 L686.6,839.4 L687.8,838.6 L689.0,837.9 L690.2,837.1 L691.3,836.4 L692.5,835.6 L693.7,834.9 L694.9,834.1 L696.1,833.4 L697.2,832.7 L698.4,831.9 L699.6,831.2 L700.8,830.4 L701.9,829.7 L703.1,828.9 L704.3,828.2 L705.5,827.4 L706.6,826.7 L707.8,826.0 L709.0,825.2 L710.2,824.5 L711.4,823.7 L712.5,823.0 L713.7,822.2 L714.9,821.5 L716.1,820.7 L717.2,820.0 L718.4,819.3 L719.6,818.5 L720.8,817.8 L721.9,817.0 L723.1,816.3 L724.3,815.5 L725.5,814.8 L726.6,814.0 L727.8,813.3 L729.0,812.6 L730.2,811.8 L731.4,811.1 L732.5,810.3 L733.7,809.6 L734.9,808.8 L736.1,808.1 L737.2,807.3 L738.4,806.6 L739.6,805.8 L740.8,805.1 L741.9,804.4 L743.1,803.6 L744.3,802.9 L745.5,802.1 L746.6,801.4 L747.8,800.6 L749.0,799.9 L750.2,799.1 L751.3,798.4 L752.5,797.6 L753.7,796.9 L754.9,796.1 L756.1,795.4 L757.2,794.7 L758.4,793.9 L759.6,793.2 L760.8,792.4 L761.9,791.7 L763.1,790.9 L764.3,790.2 L765.5,789.4 L766.6,788.7 L767.8,787.9 L769.0,787.2 L770.2,786.5 L771.3,785.7 L772.5,785.0 L773.7,784.2 L774.9,783.5 L776.0,782.7 L777.2,782.0 L778.4,781.2 L779.6,780.5 L780.7,779.7 L781.9,779.0 L783.1,778.2 L784.3,777.5 L785.4,776.7 L786.6,776.0 L787.8,775.3 L789.0,774.5 L790.1,773.8 L791.3,773.0 L792.5,772.3 L793.7,771.5 L794.8,770.8 L796.0,770.0 L797.2,769.3 L798.4,768.5 L799.5,767.8 L800.7,767.0 L801.9,766.3 L803.1,765.5 L804.2,764.8 L805.4,764.1 L806.6,763.3 L807.8,762.6 L808.9,761.8 L810.1,761.1 L811.3,760.3 L812.5,759.6 L813.7,758.8 L814.8,758.1 L816.0,757.3 L817.2,756.6 L818.4,755.8 L819.5,755.1 L820.7,754.3" fill="none" stroke="#ff0000" stroke-width="3.05" stroke-dasharray="21.465 9.199" stroke-dashoffset="26.06" clip-path="url(#cb)"/>
<path d="M132.4,650.0 L132.4,651.7 L132.4,653.5 L132.4,655.2 L132.4,656.9 L132.5,658.6 L132.5,660.4 L132.5,662.1 L132.5,663.8 L132.5,665.5 L132.5,667.3 L132.5,669.0 L132.5,670.7 L132.6,672.4 L132.6,674.2 L132.6,675.9 L132.6,677.6 L132.6,679.3 L132.6,681.1 L132.6,682.8 L132.6,684.5 L132.7,686.2 L132.7,688.0 L132.7,689.7 L132.7,691.4 L132.7,693.1 L132.7,694.9 L132.7,696.6 L132.8,698.3 L132.8,700.0 L132.8,701.8 L132.8,703.5 L132.8,705.2 L132.8,706.9 L132.8,708.7 L132.8,710.4 L132.9,712.1 L132.9,713.8 L132.9,715.6 L132.9,717.3 L132.9,719.0 L132.9,720.7 L132.9,722.5 L133.0,724.2 L133.0,725.9 L133.0,727.6 L133.0,729.4 L133.0,731.1 L133.0,732.8 L133.0,734.5 L133.1,736.3 L133.1,738.0 L133.1,739.7 L133.1,741.4 L133.1,743.2 L133.1,744.9 L133.1,746.6 L133.2,748.3 L133.2,750.1 L133.2,751.8 L133.2,753.5 L133.2,755.2 L133.2,757.0 L133.2,758.7 L133.3,760.4 L133.3,762.1 L133.3,763.9 L133.3,765.6 L133.3,767.3 L133.3,769.0 L133.3,770.8 L133.4,772.5 L133.4,774.2 L133.4,775.9 L133.4,777.7 L133.4,779.4 L133.4,781.1 L133.4,782.8 L133.5,784.6 L133.5,786.3 L133.5,788.0 L133.5,789.7 L133.5,791.5 L133.5,793.2 L133.6,794.9 L133.6,796.6 L133.6,798.4 L133.6,800.1 L133.6,801.8 L133.6,803.5 L133.6,805.3 L133.7,807.0 L133.7,808.7 L133.7,810.4 L133.7,812.2 L133.7,813.9 L133.7,815.6 L133.8,817.3 L133.8,819.1 L133.8,820.8 L133.8,822.5 L133.8,824.2 L133.8,826.0 L133.8,827.7 L133.9,829.4 L133.9,831.1 L133.9,832.9 L133.9,834.6 L133.9,836.3 L133.9,838.0 L134.0,839.8 L134.0,841.5 L134.0,843.2 L134.0,844.9 L134.0,846.7 L134.0,848.4 L134.0,850.1 L134.1,851.8 L134.1,853.6 L134.1,855.3 L134.1,857.0 L134.1,858.7 L134.1,860.5 L134.2,862.2 L134.2,863.9 L134.2,865.6 L134.2,867.4 L134.2,869.1 L134.2,870.8 L134.3,872.5 L134.3,874.3 L134.3,876.0 L134.3,877.7 L134.3,879.4 L134.3,881.2 L134.3,882.9 L134.4,884.6 L134.4,886.3 L134.4,888.1 L134.4,889.8 L134.4,891.5 L134.4,893.2 L134.5,895.0 L134.5,896.7 L134.5,898.4 L134.5,900.1 L134.5,901.9 L134.5,903.6 L134.5,905.3 L134.6,907.0 L134.6,908.8 L134.6,910.5 L134.6,912.2 L134.6,913.9 L134.6,915.7 L134.7,917.4 L134.7,919.1 L134.7,920.8 L134.7,922.6 L134.7,924.3 L134.7,926.0 L134.7,927.7 L134.7,929.5 L134.8,931.2 L134.8,932.9 L134.8,934.6 L134.8,936.4 L134.8,938.1 L134.8,939.8 L134.8,941.5 L134.9,943.3 L134.9,945.0 L134.9,946.7 L134.9,948.4 L134.9,950.2 L134.9,951.9 L135.0,953.6 L135.0,955.3 L135.0,957.1 L135.0,958.8 L135.0,960.5 L135.0,962.2 L135.0,964.0 L135.1,965.7 L135.1,967.4 L135.1,969.1 L135.1,970.9 L135.1,972.6 L135.1,974.3 L135.2,976.0 L135.2,977.8 L135.2,979.5 L135.2,981.2 L135.2,982.9 L135.3,984.7 L135.3,986.4 L135.3,988.1 L135.3,989.8 L135.3,991.6 L135.4,993.3 L135.4,995.0 L135.4,996.7 L135.4,998.5 L135.5,1000.2 L135.5,1001.9 L135.5,1003.6 L135.5,1005.4 L135.6,1007.1 L135.6,1008.8 L135.6,1010.5 L135.6,1012.3 L135.7,1014.0 L135.7,1015.7 L135.7,1017.4 L135.8,1019.2 L135.8,1020.9 L135.8,1022.6 L135.9,1024.3 L135.9,1026.1 L135.9,1027.8 L136.0,1029.5 L136.0,1031.2 L136.0,1033.0 L136.1,1034.7 L136.1,1036.4 L136.2,1038.1 L136.2,1039.9 L136.2,1041.6 L136.3,1043.3 L136.3,1045.0 L136.3,1046.8 L136.4,1048.5 L136.4,1050.2 L136.5,1051.9 L136.5,1053.7 L136.5,1055.4 L136.6,1057.1 L136.6,1058.8 L136.7,1060.6 L136.7,1062.3 L136.7,1064.0 L136.8,1065.7 L136.8,1067.5 L136.9,1069.2 L136.9,1070.9 L136.9,1072.6 L137.0,1074.3 L137.0,1076.1 L137.0,1077.8 L137.1,1079.5 L137.1,1081.2 L137.2,1083.0 L137.2,1084.7 L137.2,1086.4 L137.3,1088.1 L137.3,1089.9 L137.3,1091.6 L137.4,1093.3 L137.4,1095.0 L137.4,1096.8 L137.5,1098.5 L137.5,1100.2 L137.5,1101.9 L137.5,1103.7 L137.6,1105.4 L137.6,1107.1 L137.6,1108.8 L137.7,1110.6 L137.7,1112.3 L137.7,1114.0 L137.8,1115.7 L137.8,1117.5 L137.8,1119.2 L137.9,1120.9 L137.9,1122.6 L138.0,1124.4 L138.0,1126.1 L138.1,1127.8 L138.1,1129.5 L138.2,1131.3 L138.3,1133.0 L138.4,1134.7 L138.5,1136.4 L138.5,1138.2 L138.6,1139.3" fill="none" stroke="#0000ff" stroke-width="3.05" stroke-dasharray="21.266 9.114 3.038 9.114" stroke-dashoffset="4.29" clip-path="url(#cb)"/>
<path d="M138.6,1139.3 L138.6,1139.9 L138.7,1141.6 L138.8,1143.3 L138.9,1145.0 L139.0,1146.8 L139.0,1148.5 L139.1,1150.2 L139.1,1151.9 L139.2,1153.7 L139.3,1155.4 L139.3,1157.1 L139.4,1158.8 L139.4,1160.6 L139.5,1162.3 L139.6,1164.0 L139.6,1165.7 L139.7,1167.5 L139.7,1169.2 L139.8,1170.9 L139.8,1172.6 L139.9,1174.4 L139.9,1176.1 L140.0,1177.8 L140.1,1179.5 L140.2,1181.3 L140.3,1183.0 L140.4,1184.7 L140.5,1186.4 L140.6,1188.1 L140.8,1189.9 L140.9,1191.6 L141.0,1193.3 L141.1,1195.0 L141.2,1196.7 L141.3,1198.5 L141.4,1200.2 L141.5,1201.9 L141.5,1203.6 L141.6,1205.4 L141.7,1207.1 L141.8,1208.8 L141.9,1210.5 L142.0,1212.2 L142.1,1214.0 L142.2,1215.7 L142.3,1217.4 L142.4,1219.1 L142.5,1220.9 L142.6,1222.6 L142.7,1224.3 L142.7,1224.5" fill="none" stroke="#0000ff" stroke-width="3.05" stroke-dasharray="21.328 9.140 3.047 9.140" stroke-dashoffset="25.92" clip-path="url(#cb)"/>
<path d="M142.7,1224.5 L142.8,1226.0 L142.9,1227.8 L143.0,1229.5 L143.1,1231.2 L143.3,1232.9 L143.5,1234.6 L143.7,1236.3 L143.9,1238.0 L144.1,1239.8 L144.3,1241.5 L144.6,1243.2 L144.8,1244.9 L145.0,1246.6 L145.2,1248.3 L145.5,1250.0 L145.7,1251.7 L145.9,1253.4 L146.2,1255.2 L146.4,1256.9 L146.7,1258.6 L147.0,1260.3 L147.2,1262.0 L147.6,1263.7 L147.9,1265.4 L148.2,1267.0 L148.6,1268.7 L149.0,1270.4 L149.4,1272.1 L149.8,1273.8 L150.2,1275.4 L150.7,1277.1 L151.1,1278.8 L151.5,1280.5 L152.0,1282.1 L152.5,1283.8 L153.0,1285.4 L153.5,1287.1 L154.0,1288.7 L154.6,1290.4 L155.2,1292.0 L155.9,1293.6 L156.6,1295.1 L157.3,1296.7 L158.2,1298.2 L159.2,1299.6 L160.2,1301.0 L161.2,1302.4 L162.3,1303.7 L163.5,1305.1 L164.7,1306.3 L166.0,1307.5 L167.3,1308.6 L168.7,1309.5 L170.2,1310.3 L171.7,1311.0 L173.3,1311.7 L175.0,1312.3 L176.6,1312.9 L178.3,1313.4 L180.0,1313.9 L181.7,1314.3 L183.3,1314.7 L185.0,1315.1 L186.7,1315.4 L188.4,1315.7 L190.1,1315.9 L191.9,1316.0 L193.6,1316.2 L195.3,1316.3 L197.0,1316.4 L198.8,1316.5 L200.5,1316.5 L202.2,1316.4 L203.9,1316.2 L205.6,1315.9" fill="none" stroke="#0000ff" stroke-width="3.05" stroke-dasharray="21.553 9.237 3.079 9.237" stroke-dashoffset="26.24" clip-path="url(#cb)"/>
<path d="M205.6,1315.9 L205.6,1315.9 L207.3,1315.5 L209.0,1315.0 L210.6,1314.5 L212.3,1314.1 L214.0,1313.6 L215.6,1313.0 L217.3,1312.4 L218.9,1311.7 L220.4,1310.9 L221.9,1310.1 L223.3,1309.2 L224.7,1308.2 L225.9,1307.0 L227.2,1305.8 L228.4,1304.5 L229.6,1303.3 L230.7,1301.9 L231.8,1300.5 L232.8,1299.1 L233.9,1297.8 L235.2,1296.7 L236.5,1295.6 L237.9,1294.7 L239.4,1293.8 L240.9,1292.9 L242.4,1292.1 L243.9,1291.2 L245.4,1290.3 L246.9,1289.4 L248.4,1288.5 L249.8,1287.5 L251.3,1286.6 L252.7,1285.7 L254.2,1284.8 L255.7,1283.9 L257.2,1283.1 L258.8,1282.3 L260.3,1281.5 L261.9,1280.7 L263.4,1280.0 L265.0,1279.4 L266.7,1278.9 L268.3,1278.5 L270.0,1278.2 L271.7,1277.9 L273.4,1277.6 L275.2,1277.4 L276.9,1277.2 L278.6,1277.1 L280.3,1277.0 L282.0,1277.0 L283.8,1276.9 L285.5,1276.8 L287.2,1276.8 L288.9,1276.7 L290.7,1276.7 L292.4,1276.7 L294.1,1276.6 L295.9,1276.6 L297.6,1276.6 L299.3,1276.6 L301.0,1276.6 L302.8,1276.6 L304.5,1276.6 L306.2,1276.6 L308.0,1276.6 L309.7,1276.6 L311.4,1276.6 L313.2,1276.6 L314.9,1276.6 L316.6,1276.6 L318.4,1276.5 L320.1,1276.5 L321.8,1276.5 L323.5,1276.5 L325.2,1276.5 L326.9,1276.5 L328.6,1276.5 L330.4,1276.4 L332.1,1276.2 L333.9,1275.9 L335.6,1275.4 L337.3,1274.9 L338.9,1274.3 L340.4,1273.7 L341.8,1273.0 L343.3,1272.1 L344.7,1270.9 L346.1,1269.7 L347.3,1268.3 L348.4,1266.9 L349.2,1265.5 L350.0,1264.1 L350.6,1262.6 L351.3,1261.0 L351.8,1259.3 L352.3,1257.6 L352.8,1255.8 L353.2,1254.1 L353.5,1252.4 L353.8,1250.7 L354.1,1249.1 L354.3,1247.4 L354.6,1245.7 L354.8,1243.9 L355.0,1242.2 L355.2,1240.5 L355.4,1238.8 L355.6,1237.1 L355.7,1235.3 L355.9,1233.6 L356.1,1231.9 L356.2,1230.2 L356.4,1228.4 L356.5,1226.7 L356.6,1225.0 L356.8,1223.3 L356.9,1221.6 L357.0,1219.8 L357.2,1218.1 L357.3,1216.4 L357.4,1214.7 L357.5,1213.0 L357.6,1211.2 L357.7,1209.5 L357.8,1207.8 L357.9,1206.1 L358.0,1204.3 L358.1,1202.6 L358.2,1200.9 L358.3,1199.2 L358.4,1197.5 L358.5,1195.7 L358.6,1194.0 L358.7,1192.3 L358.7,1190.6 L358.8,1188.8 L358.9,1187.1 L358.9,1185.4 L359.0,1183.7 L359.1,1181.9 L359.2,1180.2 L359.2,1178.5 L359.3,1176.8 L359.4,1175.1 L359.5,1173.3 L359.6,1172.0" fill="none" stroke="#0000ff" stroke-width="3.05" stroke-dasharray="21.133 9.057 3.019 9.057" stroke-dashoffset="25.54" clip-path="url(#cb)"/>
<path d="M359.6,1172.0 L359.6,1171.6 L359.7,1169.9 L359.8,1168.2 L359.9,1166.4 L360.0,1164.7 L360.1,1163.0 L360.2,1161.3 L360.4,1159.6 L360.5,1157.8 L360.7,1156.1 L360.8,1154.4 L361.0,1152.7 L361.2,1151.0 L361.4,1149.2 L361.6,1147.5 L361.9,1145.8 L362.1,1144.0 L362.4,1142.3 L362.7,1140.6 L363.0,1138.9 L363.3,1137.3 L363.7,1135.6 L364.1,1134.0 L364.7,1132.4 L365.4,1130.8 L366.1,1129.2 L366.9,1127.6 L367.8,1126.1 L368.6,1124.6 L369.5,1123.2 L370.5,1121.7 L371.5,1120.3 L372.5,1118.9 L373.6,1117.6 L374.8,1116.3 L375.9,1115.0 L377.1,1113.8 L378.4,1112.7 L379.7,1111.5 L381.0,1110.4 L382.3,1109.3 L383.7,1108.3 L385.1,1107.2 L386.5,1106.2 L387.9,1105.1 L389.3,1104.1 L390.7,1103.0 L392.1,1102.0 L393.4,1101.0 L394.9,1100.0 L395.4,1099.6" fill="none" stroke="#0000ff" stroke-width="3.05" stroke-dasharray="21.450 9.193 3.064 9.193" stroke-dashoffset="26.14" clip-path="url(#cb)"/>
<path d="M395.4,1099.6 L396.3,1099.0 L397.7,1098.0 L399.1,1097.0 L400.5,1096.0 L401.9,1095.0 L403.2,1093.9 L404.6,1092.8 L405.9,1091.8 L407.3,1090.7 L408.7,1089.7 L410.1,1088.7 L411.6,1087.8 L413.0,1086.9 L414.5,1086.0 L416.0,1085.1 L417.5,1084.3 L419.0,1083.4 L420.5,1082.5 L422.0,1081.7 L423.5,1080.8 L424.9,1079.9 L426.4,1079.0 L427.8,1078.0 L429.3,1077.1 L430.7,1076.1 L432.2,1075.2 L433.6,1074.2 L435.0,1073.2 L436.4,1072.3 L437.8,1071.3 L439.2,1070.3 L440.6,1069.3 L442.0,1068.2 L443.4,1067.2 L444.9,1066.2 L446.3,1065.3 L447.7,1064.3 L449.1,1063.3 L450.5,1062.3 L452.0,1061.4 L453.4,1060.4 L454.8,1059.4 L456.2,1058.5 L457.7,1057.5 L459.1,1056.5 L460.5,1055.6 L462.0,1054.6 L463.4,1053.7 L464.9,1052.7 L466.3,1051.7 L467.7,1050.8 L469.2,1049.8 L470.6,1048.9 L472.0,1047.9 L473.5,1047.0 L474.9,1046.0 L476.4,1045.1 L477.8,1044.1 L479.2,1043.2 L480.7,1042.2 L482.1,1041.3 L483.6,1040.3 L485.0,1039.4 L486.4,1038.4 L487.9,1037.5 L489.3,1036.6 L490.8,1035.6 L492.2,1034.7 L493.7,1033.7 L495.1,1032.8 L496.6,1031.8 L498.0,1030.9 L499.5,1030.0 L500.9,1029.0 L501.5,1028.6" fill="none" stroke="#0000ff" stroke-width="3.05" stroke-dasharray="21.279 9.120 3.040 9.120" stroke-dashoffset="25.79" clip-path="url(#cb)"/>
<path d="M501.5,1028.6 L502.3,1028.1 L503.8,1027.1 L505.2,1026.2 L506.7,1025.3 L508.1,1024.3 L509.6,1023.4 L511.0,1022.4 L512.5,1021.5 L513.9,1020.5 L515.3,1019.6 L516.8,1018.6 L518.2,1017.7 L519.7,1016.8 L521.1,1015.8 L522.6,1014.9 L524.0,1013.9 L525.4,1013.0 L526.9,1012.0 L528.3,1011.1 L529.8,1010.1 L531.2,1009.2 L532.6,1008.2 L534.1,1007.3 L535.5,1006.3 L537.0,1005.4 L538.4,1004.4 L539.8,1003.5 L541.3,1002.5 L542.7,1001.6 L544.2,1000.6 L545.6,999.7 L547.0,998.7 L548.5,997.8 L549.9,996.8 L551.4,995.9 L552.8,994.9 L554.2,993.9 L555.7,993.0 L557.1,992.0 L558.5,991.1 L560.0,990.1 L561.4,989.2 L562.9,988.2 L564.3,987.3 L565.7,986.3 L567.2,985.4 L568.6,984.4 L570.1,983.5 L571.5,982.5 L572.9,981.6 L574.4,980.6 L575.8,979.7 L577.2,978.7 L578.7,977.8 L580.1,976.8 L581.6,975.8 L583.0,974.9 L584.4,973.9 L585.9,973.0 L587.3,972.0 L588.7,971.1 L590.2,970.1 L591.6,969.2 L593.1,968.2 L594.5,967.3 L595.9,966.3 L597.4,965.3 L598.8,964.4 L600.2,963.4 L601.7,962.5 L603.1,961.5 L604.5,960.6 L606.0,959.6 L607.4,958.7 L608.9,957.7 L610.3,956.7 L611.7,955.8 L613.2,954.8 L614.6,953.9 L616.0,952.9 L617.5,952.0 L618.9,951.0 L620.3,950.0 L621.8,949.1 L623.2,948.1 L624.6,947.2 L626.1,946.2 L627.5,945.3 L628.9,944.3 L630.4,943.3 L631.8,942.4 L633.2,941.4 L634.7,940.5 L636.1,939.5 L637.6,938.6 L639.0,937.6 L640.4,936.6 L641.9,935.7 L643.3,934.7 L644.7,933.8 L646.2,932.8 L647.6,931.8 L649.0,930.9 L650.5,929.9 L651.9,929.0 L653.3,928.0 L654.8,927.0 L656.2,926.1 L657.6,925.1 L659.1,924.2 L660.5,923.2 L661.9,922.2 L663.4,921.3 L664.8,920.3 L666.2,919.4 L667.7,918.4 L669.1,917.4 L670.5,916.5 L671.9,915.5 L673.4,914.5 L674.8,913.6 L676.2,912.6 L677.7,911.7 L679.1,910.7 L680.5,909.7 L682.0,908.8 L683.4,907.8 L684.8,906.8 L686.3,905.9 L687.7,904.9 L689.1,904.0 L690.6,903.0 L692.0,902.0 L693.4,901.1 L694.9,900.1 L696.3,899.1 L697.7,898.2 L699.1,897.2 L700.6,896.2 L702.0,895.3 L703.4,894.3 L704.9,893.4 L706.3,892.4 L707.7,891.4 L709.2,890.5 L710.6,889.5 L712.0,888.5 L713.4,887.6 L714.9,886.6 L716.3,885.6 L717.7,884.7 L719.2,883.7 L720.6,882.7 L722.0,881.8 L723.5,880.8 L724.9,879.8 L726.3,878.9 L727.7,877.9 L729.2,876.9 L730.6,876.0 L732.0,875.0 L733.5,874.0 L734.9,873.1 L736.3,872.1 L737.7,871.1 L739.2,870.2 L740.6,869.2 L742.0,868.2 L743.5,867.3 L744.9,866.3 L746.3,865.3 L747.7,864.4 L749.2,863.4 L750.6,862.4 L752.0,861.5 L753.4,860.5 L754.9,859.5 L756.3,858.6 L757.7,857.6 L759.2,856.6 L760.6,855.6 L762.0,854.7 L763.4,853.7 L764.9,852.7 L766.3,851.8 L767.7,850.8 L769.1,849.8 L770.6,848.9 L772.0,847.9 L773.4,846.9 L774.9,845.9 L776.3,845.0 L777.7,844.0 L779.1,843.0 L780.6,842.1 L782.0,841.1 L783.4,840.1 L784.8,839.1 L786.3,838.2 L787.7,837.2 L789.1,836.2 L790.5,835.3 L792.0,834.3 L793.4,833.3 L794.8,832.3 L796.2,831.4 L797.7,830.4 L799.1,829.4 L800.5,828.5 L801.9,827.5 L803.4,826.5 L804.8,825.5 L806.2,824.6 L807.6,823.6 L809.1,822.6 L810.5,821.6 L811.9,820.7 L813.3,819.7 L814.8,818.7 L816.2,817.7 L817.6,816.8" fill="none" stroke="#0000ff" stroke-width="3.05" stroke-dasharray="21.335 9.144 3.048 9.144" stroke-dashoffset="25.92" clip-path="url(#cb)"/>
<rect x="126.60" y="717.50" width="694.10" height="612.40" fill="none" stroke="#000" stroke-width="2.00"/>
<text transform="translate(120.70,637.30) scale(1.0200,1)" font-size="35.50" text-anchor="end" >0</text>
<text transform="translate(121.00,484.20) scale(1.0000,1)" font-size="35.50" text-anchor="end" >0.01</text>
<text transform="translate(120.70,331.10) scale(1.0200,1)" font-size="35.50" text-anchor="end" >0.02</text>
<text transform="translate(120.70,178.00) scale(1.0200,1)" font-size="35.50" text-anchor="end" >0.03</text>
<text transform="translate(120.70,24.90) scale(1.0200,1)" font-size="35.50" text-anchor="end" >0.04</text>
<text transform="translate(128.00,658.60) scale(1.0000,1)" font-size="35.50" text-anchor="middle" >0</text>
<text transform="translate(245.28,658.60) scale(1.0000,1)" font-size="35.50" text-anchor="middle" >0.5</text>
<text transform="translate(359.37,658.60) scale(1.0000,1)" font-size="35.50" text-anchor="middle" >1</text>
<text transform="translate(476.65,658.60) scale(1.0000,1)" font-size="35.50" text-anchor="middle" >1.5</text>
<text transform="translate(590.73,658.60) scale(1.0000,1)" font-size="35.50" text-anchor="middle" >2</text>
<text transform="translate(708.02,658.60) scale(1.0000,1)" font-size="35.50" text-anchor="middle" >2.5</text>
<text transform="translate(822.10,658.60) scale(1.0000,1)" font-size="35.50" text-anchor="middle" >3</text>
<text transform="translate(119.30,1342.20) scale(1.0200,1)" font-size="35.50" text-anchor="end" >0</text>
<text transform="translate(119.60,1219.72) scale(1.0000,1)" font-size="35.50" text-anchor="end" >0.01</text>
<text transform="translate(119.30,1097.24) scale(1.0200,1)" font-size="35.50" text-anchor="end" >0.02</text>
<text transform="translate(119.30,974.76) scale(1.0200,1)" font-size="35.50" text-anchor="end" >0.03</text>
<text transform="translate(119.30,852.28) scale(1.0200,1)" font-size="35.50" text-anchor="end" >0.04</text>
<text transform="translate(119.30,729.80) scale(1.0200,1)" font-size="35.50" text-anchor="end" >0.05</text>
<text transform="translate(126.60,1363.40) scale(1.0000,1)" font-size="35.50" text-anchor="middle" >0</text>
<text transform="translate(243.88,1363.40) scale(1.0000,1)" font-size="35.50" text-anchor="middle" >0.5</text>
<text transform="translate(357.97,1363.40) scale(1.0000,1)" font-size="35.50" text-anchor="middle" >1</text>
<text transform="translate(475.25,1363.40) scale(1.0000,1)" font-size="35.50" text-anchor="middle" >1.5</text>
<text transform="translate(589.33,1363.40) scale(1.0000,1)" font-size="35.50" text-anchor="middle" >2</text>
<text transform="translate(706.62,1363.40) scale(1.0000,1)" font-size="35.50" text-anchor="middle" >2.5</text>
<text transform="translate(820.70,1363.40) scale(1.0000,1)" font-size="35.50" text-anchor="middle" >3</text>
<text transform="translate(407.10,691.70) scale(1.1300,1)" font-size="36.50" text-anchor="start" >&#937;</text>
<text transform="translate(446.50,691.70) scale(1.0350,1)" font-size="36.50" text-anchor="start" >(meV)</text>
<text transform="translate(405.70,1397.50) scale(1.1300,1)" font-size="36.50" text-anchor="start" >&#937;</text>
<text transform="translate(445.10,1397.50) scale(1.0350,1)" font-size="36.50" text-anchor="start" >(meV)</text>
<text transform="translate(30.4,465.0) rotate(-90) scale(1.0,1)" font-size="36.5"><tspan dy="1.40" font-size="36.50" font-family="Liberation Sans, sans-serif" stroke="#000" stroke-width="0.9">&#963;</tspan><tspan dy="15.30" font-size="26.50" dx="1">xx</tspan><tspan dy="-16.70" font-size="36.50" > (e</tspan><tspan dy="-13.30" font-size="24.50" >2</tspan><tspan dy="13.30" font-size="36.50" >/[</tspan><tspan dy="0.00" font-size="36.50" font-style="italic">&#295;</tspan><tspan dy="-13.30" font-size="24.50" >3</tspan><tspan dy="13.30" font-size="36.50" dx="-1">v</tspan><tspan dy="7.00" font-size="23.50" >F</tspan><tspan dy="-7.00" font-size="36.50" >] meV)</tspan></text>
<text transform="translate(30.4,1144.2) rotate(-90) scale(1.0,1)" font-size="36.5"><tspan dy="1.40" font-size="36.50" font-family="Liberation Sans, sans-serif" stroke="#000" stroke-width="0.9">&#963;</tspan><tspan dy="15.30" font-size="26.50" dx="1">xx</tspan><tspan dy="-16.70" font-size="36.50" > (e</tspan><tspan dy="-13.30" font-size="24.50" >2</tspan><tspan dy="13.30" font-size="36.50" >/[</tspan><tspan dy="0.00" font-size="36.50" font-style="italic">&#295;</tspan><tspan dy="-13.30" font-size="24.50" >3</tspan><tspan dy="13.30" font-size="36.50" dx="-1">v</tspan><tspan dy="7.00" font-size="23.50" >F</tspan><tspan dy="-7.00" font-size="36.50" >] meV)</tspan></text>
<text transform="translate(235.70,110.70) scale(1.0350,1)" font-size="28.50" text-anchor="start" ><tspan dy="0.00" font-size="28.50" >&#915;</tspan><tspan dy="12.00" font-size="19.00" dx="-5">1</tspan><tspan dy="-12.00" font-size="28.50" dx="-3">=0.1 meV</tspan><tspan dy="-15.00" font-size="19.00" dx="2">-1</tspan></text>
<line x1="236.9" y1="144.5" x2="319.0" y2="144.5" stroke="#000000" stroke-width="3.05"/>
<line x1="236.9" y1="185.1" x2="319.0" y2="185.1" stroke="#000000" stroke-width="3.05" stroke-dasharray="3.05 9.15"/>
<line x1="236.9" y1="228.6" x2="319.0" y2="228.6" stroke="#ff0000" stroke-width="3.05" stroke-dasharray="21.35 9.15"/>
<line x1="236.9" y1="269.1" x2="319.0" y2="269.1" stroke="#ff0000" stroke-width="3.05" stroke-dasharray="3.05 9.15"/>
<text transform="translate(335.90,154.60) scale(1.0350,1)" font-size="28.50" text-anchor="start" ><tspan dy="0.00" font-size="28.50" >&#956;=0</tspan></text>
<text transform="translate(335.90,194.20) scale(1.0350,1)" font-size="28.50" text-anchor="start" ><tspan dy="0.00" font-size="28.50" >Drude</tspan></text>
<text transform="translate(335.90,237.60) scale(1.0350,1)" font-size="28.50" text-anchor="start" ><tspan dy="0.00" font-size="28.50" >&#956;=0.5 meV</tspan></text>
<text transform="translate(335.90,277.90) scale(1.0350,1)" font-size="28.50" text-anchor="start" ><tspan dy="0.00" font-size="28.50" >Drude</tspan></text>
<text transform="translate(528.00,478.00) scale(1.0350,1)" font-size="28.50" text-anchor="start" ><tspan dy="0.00" font-size="28.50" >&#915;</tspan><tspan dy="12.00" font-size="19.00" dx="-5">1</tspan><tspan dy="-12.00" font-size="28.50" dx="-2">=0.01 meV</tspan><tspan dy="-15.00" font-size="19.00" dx="3.5">-1</tspan></text>
<line x1="529.6" y1="507.0" x2="605.8" y2="507.0" stroke="#0000ff" stroke-width="3.05" stroke-dasharray="3.05 9.15 21.35 9.15"/>
<line x1="529.6" y1="547.5" x2="605.8" y2="547.5" stroke="#0000ff" stroke-width="3.05" stroke-dasharray="3.05 9.15"/>
<text transform="translate(628.30,517.70) scale(1.0350,1)" font-size="28.50" text-anchor="start" ><tspan dy="0.00" font-size="28.50" >&#956;=0.5 meV</tspan></text>
<text transform="translate(628.30,557.50) scale(1.0350,1)" font-size="28.50" text-anchor="start" ><tspan dy="0.00" font-size="28.50" >Drude</tspan></text>
<text transform="translate(585.40,71.40) scale(1.0350,1)" font-size="28.50" text-anchor="start" ><tspan dy="0.00" font-size="28.50" >&#915;(&#969;)=&#915;</tspan><tspan dy="6.00" font-size="19.00" >1</tspan><tspan dy="-6.00" font-size="28.50" >&#969;</tspan><tspan dy="-12.00" font-size="19.00" >2</tspan></text>
<text transform="translate(761.30,586.30) scale(0.9500,1)" font-size="34.50" text-anchor="start" >(a)</text>
<line x1="180.8" y1="775.3" x2="262.8" y2="775.3" stroke="#ff0000" stroke-width="3.05" stroke-dasharray="21.35 9.15"/>
<line x1="180.8" y1="811.0" x2="262.8" y2="811.0" stroke="#ff0000" stroke-width="3.05" stroke-dasharray="3.05 9.15"/>
<line x1="180.8" y1="845.9" x2="256.8" y2="845.9" stroke="#0000ff" stroke-width="3.05" stroke-dasharray="3.05 9.15 21.35 9.15"/>
<line x1="180.8" y1="880.8" x2="262.8" y2="880.8" stroke="#0000ff" stroke-width="3.05" stroke-dasharray="3.05 9.15"/>
<text transform="translate(279.40,781.30) scale(1.0350,1)" font-size="28.50" text-anchor="start" ><tspan dy="0.00" font-size="28.50" >&#956;=0.5 meV,</tspan><tspan dy="0.00" font-size="28.50" dx="4"> &#915;</tspan><tspan dy="10.50" font-size="19.00" dx="-4">2</tspan><tspan dy="-10.50" font-size="28.50" dx="-1.5">=</tspan><tspan dy="0.00" font-size="28.50" dx="2.5">0.1</tspan></text>
<text transform="translate(279.40,820.50) scale(1.0350,1)" font-size="28.50" text-anchor="start" ><tspan dy="0.00" font-size="28.50" >Drude</tspan></text>
<text transform="translate(279.40,850.30) scale(1.0350,1)" font-size="28.50" text-anchor="start" ><tspan dy="0.00" font-size="28.50" >&#956;=0.5 meV,</tspan><tspan dy="0.00" font-size="28.50" dx="4"> &#915;</tspan><tspan dy="10.50" font-size="19.00" dx="-4">2</tspan><tspan dy="-10.50" font-size="28.50" dx="-1.5">=</tspan><tspan dy="0.00" font-size="28.50" dx="2.5">0.01</tspan></text>
<text transform="translate(279.40,889.40) scale(1.0350,1)" font-size="28.50" text-anchor="start" ><tspan dy="0.00" font-size="28.50" >Drude</tspan></text>
<text transform="translate(568.40,1237.60) scale(1.0350,1)" font-size="28.50" text-anchor="start" ><tspan dy="0.00" font-size="28.50" >&#915;(&#969;)=&#915;</tspan><tspan dy="6.00" font-size="19.00" >2</tspan><tspan dy="-6.00" font-size="28.50" >&#956;</tspan><tspan dy="-12.00" font-size="19.00" >3</tspan><tspan dy="12.00" font-size="28.50" >/&#969;</tspan><tspan dy="-12.00" font-size="19.00" >2</tspan></text>
<text transform="translate(759.80,1277.40) scale(1.0000,1)" font-size="34.50" text-anchor="start" >(b)</text>
</svg>
</body></html>
